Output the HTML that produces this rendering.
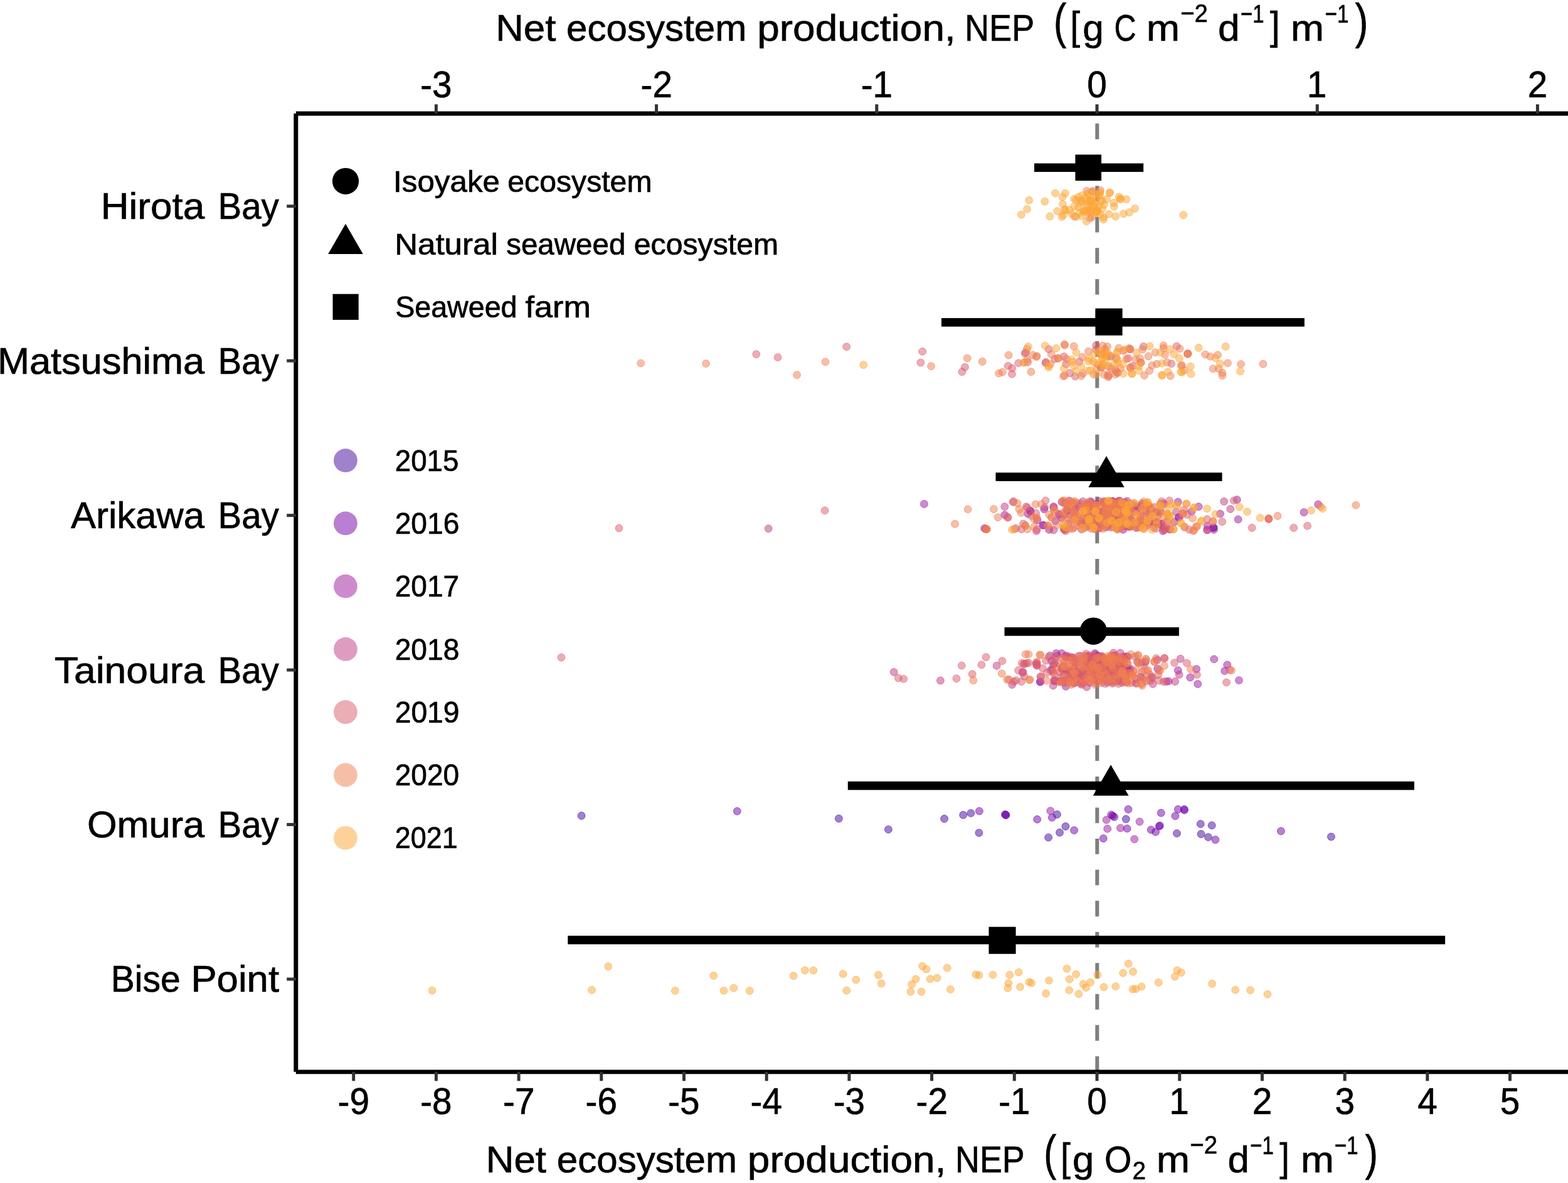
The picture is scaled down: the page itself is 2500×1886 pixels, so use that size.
<!DOCTYPE html>
<html lang="en"><head><meta charset="utf-8"><title>Net ecosystem production by site</title>
<style>html,body{margin:0;padding:0;background:#fff}body{width:2500px;height:1886px;overflow:hidden}svg{display:block}text{font-family:"Liberation Sans", sans-serif;fill:#000;white-space:pre}</style></head><body>
<svg width="2500" height="1886" viewBox="0 0 2500 1886" role="img" aria-label="Net ecosystem production by site and year">
<rect width="2500" height="1886" fill="#fff"/>
<line x1="1749.3" y1="1708.7" x2="1749.3" y2="180.9" stroke="#7f7f7f" stroke-width="6" stroke-dasharray="24.78 24.78"/>
<g fill="#41049D" fill-opacity="0.5" stroke="#41049D" stroke-opacity="0.55" stroke-width="1">
<circle cx="927.1" cy="1300.5" r="5.95"/><circle cx="1337.4" cy="1305" r="5.95"/><circle cx="1416.4" cy="1322.4" r="5.95"/><circle cx="1505.6" cy="1305.3" r="5.95"/><circle cx="1535.7" cy="1299.3" r="5.95"/><circle cx="1547.9" cy="1296.4" r="5.95"/><circle cx="1560.9" cy="1327.8" r="5.95"/><circle cx="1602.4" cy="1298.5" r="5.95"/><circle cx="1685.4" cy="1298.5" r="5.95"/><circle cx="1698.9" cy="1317.5" r="5.95"/><circle cx="1689.5" cy="1327.3" r="5.95"/><circle cx="1671.6" cy="1335.1" r="5.95"/>
<circle cx="1795.3" cy="1305.8" r="5.95"/><circle cx="1876.4" cy="1328.6" r="5.95"/><circle cx="1914.2" cy="1313.6" r="5.95"/><circle cx="1932.1" cy="1315.9" r="5.95"/><circle cx="1915" cy="1329.7" r="5.95"/><circle cx="1926.4" cy="1334.6" r="5.95"/><circle cx="2122.4" cy="1334" r="5.95"/>
</g>
<g fill="#7100A8" fill-opacity="0.5" stroke="#7100A8" stroke-opacity="0.55" stroke-width="1">
<circle cx="1934.6" cy="841.5" r="5.95"/><circle cx="1935.2" cy="840.9" r="5.95"/><circle cx="1175.3" cy="1293.3" r="5.95"/><circle cx="1561.4" cy="1293.1" r="5.95"/><circle cx="1604" cy="1299.6" r="5.95"/><circle cx="1603.5" cy="1299" r="5.95"/><circle cx="1653.7" cy="1306.3" r="5.95"/><circle cx="1677.3" cy="1303.4" r="5.95"/><circle cx="1712.6" cy="1323.7" r="5.95"/><circle cx="1759.2" cy="1336.7" r="5.95"/><circle cx="1771.7" cy="1299" r="5.95"/><circle cx="1774.2" cy="1300.6" r="5.95"/>
<circle cx="1776.6" cy="1302.6" r="5.95"/><circle cx="1798.9" cy="1290.3" r="5.95"/><circle cx="1797" cy="1320.9" r="5.95"/><circle cx="1835.2" cy="1322.9" r="5.95"/><circle cx="1842.5" cy="1326.2" r="5.95"/><circle cx="1848.2" cy="1317.2" r="5.95"/><circle cx="1849.3" cy="1316.3" r="5.95"/><circle cx="1851.2" cy="1296" r="5.95"/><circle cx="1873.8" cy="1300.9" r="5.95"/><circle cx="1878.3" cy="1290.3" r="5.95"/><circle cx="1888.4" cy="1291.6" r="5.95"/><circle cx="1888.2" cy="1290.1" r="5.95"/>
<circle cx="1937.8" cy="1338.8" r="5.95"/><circle cx="2042.4" cy="1325" r="5.95"/>
</g>
<g fill="#9C179E" fill-opacity="0.5" stroke="#9C179E" stroke-opacity="0.55" stroke-width="1">
<circle cx="1747.4" cy="817.8" r="5.95"/><circle cx="1747.6" cy="817.9" r="5.95"/><circle cx="1732.2" cy="831.5" r="5.95"/><circle cx="1794.2" cy="821.9" r="5.95"/><circle cx="1784.1" cy="802.9" r="5.95"/><circle cx="1721.6" cy="830.1" r="5.95"/><circle cx="1737.4" cy="805.6" r="5.95"/><circle cx="1762.8" cy="806.9" r="5.95"/><circle cx="1837.2" cy="812.9" r="5.95"/><circle cx="1740.8" cy="809.2" r="5.95"/><circle cx="1826.8" cy="814.8" r="5.95"/><circle cx="1842" cy="832.5" r="5.95"/>
<circle cx="1770.7" cy="811.7" r="5.95"/><circle cx="1757.4" cy="815.7" r="5.95"/><circle cx="1784.7" cy="803.4" r="5.95"/><circle cx="1739" cy="811.2" r="5.95"/><circle cx="1763.7" cy="840.4" r="5.95"/><circle cx="1778.6" cy="827.9" r="5.95"/><circle cx="1796.7" cy="804.3" r="5.95"/><circle cx="1765.5" cy="812.1" r="5.95"/><circle cx="1731.7" cy="816.3" r="5.95"/><circle cx="1773.1" cy="799.5" r="5.95"/><circle cx="1838.1" cy="831.4" r="5.95"/><circle cx="1795.3" cy="815.3" r="5.95"/>
<circle cx="1800.4" cy="839.9" r="5.95"/><circle cx="1701.6" cy="814" r="5.95"/><circle cx="1821" cy="802.9" r="5.95"/><circle cx="1753.1" cy="840.5" r="5.95"/><circle cx="1785.3" cy="798.4" r="5.95"/><circle cx="1812" cy="841.2" r="5.95"/><circle cx="1872.3" cy="832.3" r="5.95"/><circle cx="1799.7" cy="838.5" r="5.95"/><circle cx="1733.5" cy="803.5" r="5.95"/><circle cx="1772.4" cy="820.8" r="5.95"/><circle cx="1801.8" cy="819" r="5.95"/><circle cx="1854.2" cy="839.3" r="5.95"/>
<circle cx="1791.3" cy="824.3" r="5.95"/><circle cx="1739" cy="822.2" r="5.95"/><circle cx="1813.5" cy="810.2" r="5.95"/><circle cx="1793.4" cy="830.6" r="5.95"/><circle cx="1794.9" cy="838.7" r="5.95"/><circle cx="1790.7" cy="844.4" r="5.95"/><circle cx="1698.4" cy="801.9" r="5.95"/><circle cx="1701.4" cy="813" r="5.95"/><circle cx="1760.8" cy="815.6" r="5.95"/><circle cx="1774" cy="798.9" r="5.95"/><circle cx="1755.1" cy="833.1" r="5.95"/><circle cx="1801.4" cy="826.3" r="5.95"/>
<circle cx="1794" cy="800.8" r="5.95"/><circle cx="1771.5" cy="833.2" r="5.95"/><circle cx="1741.5" cy="1056.3" r="5.95"/><circle cx="1772.6" cy="1057.9" r="5.95"/><circle cx="1769.5" cy="1054.5" r="5.95"/><circle cx="1740.5" cy="1066.8" r="5.95"/><circle cx="1756.7" cy="1075.2" r="5.95"/><circle cx="1783.4" cy="1050.7" r="5.95"/><circle cx="1792.7" cy="1051.1" r="5.95"/><circle cx="1762.9" cy="1070.4" r="5.95"/><circle cx="1755.8" cy="1054.4" r="5.95"/><circle cx="1702.6" cy="1069.9" r="5.95"/>
<circle cx="1786.7" cy="1077.3" r="5.95"/><circle cx="1733.9" cy="1069.5" r="5.95"/><circle cx="1769.9" cy="1080.3" r="5.95"/><circle cx="1725.9" cy="1070.2" r="5.95"/><circle cx="1818.7" cy="1079.4" r="5.95"/><circle cx="1711.9" cy="1051.2" r="5.95"/><circle cx="1721.5" cy="1045.8" r="5.95"/><circle cx="1694.8" cy="1062.8" r="5.95"/><circle cx="1748.1" cy="1084" r="5.95"/><circle cx="1677.5" cy="1067.7" r="5.95"/><circle cx="1802" cy="1066.2" r="5.95"/><circle cx="1700.1" cy="1069.1" r="5.95"/>
<circle cx="1734.9" cy="1046" r="5.95"/><circle cx="1676.6" cy="1053.6" r="5.95"/><circle cx="1748.9" cy="1079.9" r="5.95"/><circle cx="1777.3" cy="1046.6" r="5.95"/><circle cx="1750.6" cy="1045.9" r="5.95"/><circle cx="1733" cy="1058.3" r="5.95"/><circle cx="1759.2" cy="1049.1" r="5.95"/><circle cx="1761" cy="1080.5" r="5.95"/><circle cx="1797.8" cy="1047.2" r="5.95"/><circle cx="1759.7" cy="1080.3" r="5.95"/><circle cx="1777.3" cy="1045.3" r="5.95"/><circle cx="1757.1" cy="1077" r="5.95"/>
<circle cx="1785.9" cy="1051.1" r="5.95"/><circle cx="1741.4" cy="1050.6" r="5.95"/><circle cx="1752.3" cy="1075.5" r="5.95"/><circle cx="1734.1" cy="1074.6" r="5.95"/><circle cx="1705.3" cy="1081" r="5.95"/><circle cx="1775.6" cy="1071.2" r="5.95"/><circle cx="1704" cy="1085.9" r="5.95"/><circle cx="1761.9" cy="1077.2" r="5.95"/><circle cx="1717.2" cy="1073.2" r="5.95"/><circle cx="1777.4" cy="1070.7" r="5.95"/><circle cx="1774.2" cy="1060" r="5.95"/><circle cx="1774.6" cy="1088.4" r="5.95"/>
<circle cx="1740.8" cy="1066.6" r="5.95"/><circle cx="1702.8" cy="1083" r="5.95"/><circle cx="1764.1" cy="1080.6" r="5.95"/><circle cx="1757.9" cy="1050.4" r="5.95"/><circle cx="1730.2" cy="1058.7" r="5.95"/><circle cx="1473.5" cy="803.5" r="5.95"/><circle cx="1569.7" cy="842.4" r="5.95"/><circle cx="1601.8" cy="820.9" r="5.95"/><circle cx="1642.3" cy="814" r="5.95"/><circle cx="1643.3" cy="814.9" r="5.95"/><circle cx="1638.7" cy="819.1" r="5.95"/><circle cx="1653.9" cy="829.2" r="5.95"/>
<circle cx="1664.8" cy="811.8" r="5.95"/><circle cx="1664" cy="837.1" r="5.95"/><circle cx="1662.6" cy="837.5" r="5.95"/><circle cx="1672.7" cy="844.4" r="5.95"/><circle cx="1682.8" cy="830.6" r="5.95"/><circle cx="1693" cy="800.3" r="5.95"/><circle cx="1972.2" cy="796.6" r="5.95"/><circle cx="1974.1" cy="828.1" r="5.95"/><circle cx="1945.5" cy="819.1" r="5.95"/><circle cx="1911.1" cy="807.8" r="5.95"/><circle cx="1878.2" cy="800.3" r="5.95"/><circle cx="1899.9" cy="815.4" r="5.95"/>
<circle cx="1878.9" cy="824.8" r="5.95"/><circle cx="1880.4" cy="824.6" r="5.95"/><circle cx="1925.2" cy="838.6" r="5.95"/><circle cx="1935.4" cy="844.4" r="5.95"/><circle cx="1854.3" cy="846.5" r="5.95"/><circle cx="2022.8" cy="827.5" r="5.95"/><circle cx="2079" cy="816.8" r="5.95"/><circle cx="2101.6" cy="804.2" r="5.95"/><circle cx="1653.2" cy="1061.1" r="5.95"/><circle cx="1658.9" cy="1086.7" r="5.95"/><circle cx="1909.7" cy="1090.5" r="5.95"/><circle cx="1897.6" cy="1080" r="5.95"/>
<circle cx="1907.5" cy="1066.6" r="5.95"/><circle cx="1878.2" cy="1068.8" r="5.95"/><circle cx="1863.1" cy="1086.1" r="5.95"/><circle cx="1845.7" cy="1066.2" r="5.95"/><circle cx="1826.2" cy="1055.4" r="5.95"/><circle cx="1795.8" cy="1065.5" r="5.95"/><circle cx="1935.7" cy="1050.9" r="5.95"/><circle cx="1956.7" cy="1059.9" r="5.95"/><circle cx="1952.6" cy="1069.6" r="5.95"/><circle cx="1975.4" cy="1084.6" r="5.95"/><circle cx="1674.8" cy="1292.8" r="5.95"/><circle cx="1765.7" cy="1321.3" r="5.95"/>
<circle cx="1764.1" cy="1307.1" r="5.95"/><circle cx="1786.4" cy="1320.1" r="5.95"/><circle cx="1817" cy="1310" r="5.95"/><circle cx="1808.7" cy="1337.9" r="5.95"/><circle cx="1684.1" cy="1041.6" r="5.95"/><circle cx="1692.8" cy="1041.6" r="5.95"/><circle cx="1745.6" cy="1041.6" r="5.95"/><circle cx="1658.1" cy="1087.2" r="5.95"/><circle cx="1699.3" cy="1094.4" r="5.95"/><circle cx="1707.3" cy="1072" r="5.95"/><circle cx="1796.2" cy="1046.7" r="5.95"/><circle cx="1797.7" cy="1065.5" r="5.95"/>
<circle cx="1783.9" cy="1084.3" r="5.95"/>
</g>
<g fill="#BF3984" fill-opacity="0.5" stroke="#BF3984" stroke-opacity="0.55" stroke-width="1">
<circle cx="1763.1" cy="834.2" r="5.95"/><circle cx="1696.5" cy="843.8" r="5.95"/><circle cx="1855.5" cy="802.6" r="5.95"/><circle cx="1833.5" cy="825.2" r="5.95"/><circle cx="1760.1" cy="826.4" r="5.95"/><circle cx="1759.8" cy="824.7" r="5.95"/><circle cx="1771.2" cy="840.6" r="5.95"/><circle cx="1715.1" cy="810.8" r="5.95"/><circle cx="1844.5" cy="816.2" r="5.95"/><circle cx="1831.6" cy="836.4" r="5.95"/><circle cx="1703.3" cy="835" r="5.95"/><circle cx="1776.7" cy="810.4" r="5.95"/>
<circle cx="1790.9" cy="801.2" r="5.95"/><circle cx="1807" cy="804.9" r="5.95"/><circle cx="1740.5" cy="800.6" r="5.95"/><circle cx="1781.3" cy="842.9" r="5.95"/><circle cx="1738.3" cy="799.3" r="5.95"/><circle cx="1726.5" cy="799.5" r="5.95"/><circle cx="1812.8" cy="814.1" r="5.95"/><circle cx="1759.7" cy="799.5" r="5.95"/><circle cx="1799.5" cy="833.8" r="5.95"/><circle cx="1712.9" cy="827.9" r="5.95"/><circle cx="1735.1" cy="822.4" r="5.95"/><circle cx="1846.3" cy="832.4" r="5.95"/>
<circle cx="1774.1" cy="800.5" r="5.95"/><circle cx="1839.4" cy="817.3" r="5.95"/><circle cx="1754.9" cy="816" r="5.95"/><circle cx="1803.4" cy="836.9" r="5.95"/><circle cx="1777.7" cy="803.9" r="5.95"/><circle cx="1802.8" cy="828.6" r="5.95"/><circle cx="1738.8" cy="823.6" r="5.95"/><circle cx="1738.7" cy="806.7" r="5.95"/><circle cx="1793.3" cy="822.9" r="5.95"/><circle cx="1759.8" cy="821.5" r="5.95"/><circle cx="1753.9" cy="835.8" r="5.95"/><circle cx="1810.5" cy="807.9" r="5.95"/>
<circle cx="1724.4" cy="843.8" r="5.95"/><circle cx="1766" cy="815.2" r="5.95"/><circle cx="1787.9" cy="815" r="5.95"/><circle cx="1720.1" cy="807.6" r="5.95"/><circle cx="1697.8" cy="844.2" r="5.95"/><circle cx="1737.4" cy="832" r="5.95"/><circle cx="1748.3" cy="837.8" r="5.95"/><circle cx="1783.3" cy="801" r="5.95"/><circle cx="1756.1" cy="830.6" r="5.95"/><circle cx="1752.8" cy="799.3" r="5.95"/><circle cx="1712.7" cy="812.9" r="5.95"/><circle cx="1797.1" cy="798.8" r="5.95"/>
<circle cx="1864.5" cy="844.2" r="5.95"/><circle cx="1751.9" cy="842.2" r="5.95"/><circle cx="1739.1" cy="1048" r="5.95"/><circle cx="1714.2" cy="1076.8" r="5.95"/><circle cx="1836.1" cy="1079.5" r="5.95"/><circle cx="1679.4" cy="1059.9" r="5.95"/><circle cx="1751.1" cy="1055.4" r="5.95"/><circle cx="1729.6" cy="1071.6" r="5.95"/><circle cx="1742.4" cy="1071.9" r="5.95"/><circle cx="1763.9" cy="1082.8" r="5.95"/><circle cx="1820.4" cy="1055.9" r="5.95"/><circle cx="1813.2" cy="1055.1" r="5.95"/>
<circle cx="1796.3" cy="1077.1" r="5.95"/><circle cx="1782.5" cy="1081.8" r="5.95"/><circle cx="1748.6" cy="1055.8" r="5.95"/><circle cx="1743.4" cy="1069.6" r="5.95"/><circle cx="1733.9" cy="1049.5" r="5.95"/><circle cx="1691" cy="1086" r="5.95"/><circle cx="1777.3" cy="1051.8" r="5.95"/><circle cx="1722.4" cy="1089.8" r="5.95"/><circle cx="1712.3" cy="1051.3" r="5.95"/><circle cx="1710" cy="1048.5" r="5.95"/><circle cx="1769.5" cy="1085.1" r="5.95"/><circle cx="1742.2" cy="1053.3" r="5.95"/>
<circle cx="1764.8" cy="1060" r="5.95"/><circle cx="1700.3" cy="1045.4" r="5.95"/><circle cx="1693.8" cy="1064.9" r="5.95"/><circle cx="1757.3" cy="1067.1" r="5.95"/><circle cx="1757" cy="1071.1" r="5.95"/><circle cx="1752.5" cy="1067.5" r="5.95"/><circle cx="1757.1" cy="1046.3" r="5.95"/><circle cx="1752.5" cy="1046.5" r="5.95"/><circle cx="1789.5" cy="1052.7" r="5.95"/><circle cx="1698.5" cy="1046.3" r="5.95"/><circle cx="1783.9" cy="1063.1" r="5.95"/><circle cx="1693.1" cy="1067" r="5.95"/>
<circle cx="1750.8" cy="1078.7" r="5.95"/><circle cx="1783.8" cy="1073.4" r="5.95"/><circle cx="1741.7" cy="1070.8" r="5.95"/><circle cx="1789.4" cy="1053.9" r="5.95"/><circle cx="1737.7" cy="1088.3" r="5.95"/><circle cx="1753.9" cy="1052.6" r="5.95"/><circle cx="1774.7" cy="1085" r="5.95"/><circle cx="1747.9" cy="1075.3" r="5.95"/><circle cx="1751.7" cy="1079.1" r="5.95"/><circle cx="1740" cy="1063.4" r="5.95"/><circle cx="1761.3" cy="1080.8" r="5.95"/><circle cx="1685.7" cy="1045.8" r="5.95"/>
<circle cx="1745.6" cy="1068.8" r="5.95"/><circle cx="1729.9" cy="1085.2" r="5.95"/><circle cx="1705.6" cy="1046.9" r="5.95"/><circle cx="1749.4" cy="1050.4" r="5.95"/><circle cx="1757.1" cy="1078.5" r="5.95"/><circle cx="1766" cy="1088.2" r="5.95"/><circle cx="1758.2" cy="1052.4" r="5.95"/><circle cx="1725.9" cy="1077.5" r="5.95"/><circle cx="1225.2" cy="842.7" r="5.95"/><circle cx="1601.8" cy="807.8" r="5.95"/><circle cx="1665.5" cy="808.9" r="5.95"/><circle cx="1652.5" cy="846.5" r="5.95"/>
<circle cx="1679.9" cy="845.1" r="5.95"/><circle cx="1679.9" cy="807.5" r="5.95"/><circle cx="1679.7" cy="808.9" r="5.95"/><circle cx="1689.3" cy="820.5" r="5.95"/><circle cx="1688" cy="819.4" r="5.95"/><circle cx="1705.3" cy="820.5" r="5.95"/><circle cx="1951.6" cy="799.5" r="5.95"/><circle cx="1961.8" cy="811.5" r="5.95"/><circle cx="1875.3" cy="816.2" r="5.95"/><circle cx="1925.2" cy="845.1" r="5.95"/><circle cx="1924.4" cy="844.8" r="5.95"/><circle cx="1851.4" cy="835" r="5.95"/>
<circle cx="1852.1" cy="835.5" r="5.95"/><circle cx="1425.2" cy="1071.5" r="5.95"/><circle cx="1499.4" cy="1085" r="5.95"/><circle cx="1589.1" cy="1061.4" r="5.95"/><circle cx="1613.8" cy="1091.5" r="5.95"/><circle cx="1630.4" cy="1072.5" r="5.95"/><circle cx="1630.8" cy="1071.1" r="5.95"/><circle cx="1882.2" cy="1050.3" r="5.95"/><circle cx="1880.1" cy="1075.6" r="5.95"/><circle cx="1873.5" cy="1086.5" r="5.95"/><circle cx="1859.4" cy="1086.5" r="5.95"/><circle cx="1838.1" cy="1090.5" r="5.95"/>
<circle cx="1845" cy="1052.5" r="5.95"/><circle cx="1800.8" cy="1068.4" r="5.95"/><circle cx="1792.2" cy="1046.7" r="5.95"/><circle cx="1747.1" cy="1043.1" r="5.95"/><circle cx="1775.3" cy="1040.9" r="5.95"/><circle cx="1786.1" cy="1040.9" r="5.95"/><circle cx="1681.2" cy="1085.8" r="5.95"/><circle cx="1680.7" cy="1085" r="5.95"/><circle cx="1679.1" cy="1093" r="5.95"/><circle cx="1732.6" cy="1095.2" r="5.95"/><circle cx="1674.7" cy="1068.4" r="5.95"/><circle cx="1674" cy="1045.3" r="5.95"/>
</g>
<g fill="#DA5B69" fill-opacity="0.5" stroke="#DA5B69" stroke-opacity="0.55" stroke-width="1">
<circle cx="1782.2" cy="594.5" r="5.95"/><circle cx="1747.4" cy="557.6" r="5.95"/><circle cx="1791.4" cy="559.1" r="5.95"/><circle cx="1779.6" cy="571.3" r="5.95"/><circle cx="1817.9" cy="806.3" r="5.95"/><circle cx="1818.5" cy="824.6" r="5.95"/><circle cx="1730" cy="835.5" r="5.95"/><circle cx="1831.4" cy="807.7" r="5.95"/><circle cx="1728.1" cy="812.3" r="5.95"/><circle cx="1771.5" cy="799.2" r="5.95"/><circle cx="1783.9" cy="829.8" r="5.95"/><circle cx="1818.5" cy="834.8" r="5.95"/>
<circle cx="1712.4" cy="828.7" r="5.95"/><circle cx="1763.1" cy="810.7" r="5.95"/><circle cx="1831.4" cy="820.3" r="5.95"/><circle cx="1769.7" cy="827" r="5.95"/><circle cx="1743.4" cy="818.2" r="5.95"/><circle cx="1830.4" cy="809.7" r="5.95"/><circle cx="1779.3" cy="829.3" r="5.95"/><circle cx="1763.5" cy="804.7" r="5.95"/><circle cx="1698.3" cy="819.8" r="5.95"/><circle cx="1772.5" cy="809" r="5.95"/><circle cx="1780.8" cy="821" r="5.95"/><circle cx="1828.5" cy="808.9" r="5.95"/>
<circle cx="1791.7" cy="833.4" r="5.95"/><circle cx="1795.2" cy="816.2" r="5.95"/><circle cx="1763.8" cy="801.4" r="5.95"/><circle cx="1793" cy="828.4" r="5.95"/><circle cx="1760.9" cy="824.8" r="5.95"/><circle cx="1716.1" cy="818.7" r="5.95"/><circle cx="1762" cy="810.1" r="5.95"/><circle cx="1815.8" cy="829.3" r="5.95"/><circle cx="1856.2" cy="804.5" r="5.95"/><circle cx="1755.4" cy="817.1" r="5.95"/><circle cx="1829.6" cy="805.9" r="5.95"/><circle cx="1798.5" cy="831.3" r="5.95"/>
<circle cx="1747.4" cy="824" r="5.95"/><circle cx="1845.6" cy="822.2" r="5.95"/><circle cx="1716.8" cy="801.9" r="5.95"/><circle cx="1834.7" cy="831.5" r="5.95"/><circle cx="1740" cy="811.5" r="5.95"/><circle cx="1733.6" cy="829.3" r="5.95"/><circle cx="1782.9" cy="798.6" r="5.95"/><circle cx="1818.5" cy="818.3" r="5.95"/><circle cx="1749.5" cy="820.2" r="5.95"/><circle cx="1691.6" cy="825.2" r="5.95"/><circle cx="1862" cy="820.6" r="5.95"/><circle cx="1782.8" cy="799.6" r="5.95"/>
<circle cx="1778.3" cy="819.2" r="5.95"/><circle cx="1770.3" cy="836.6" r="5.95"/><circle cx="1745.3" cy="837.6" r="5.95"/><circle cx="1748.6" cy="830.5" r="5.95"/><circle cx="1800.7" cy="803.2" r="5.95"/><circle cx="1786.8" cy="828.6" r="5.95"/><circle cx="1741.6" cy="832.9" r="5.95"/><circle cx="1788.7" cy="803.4" r="5.95"/><circle cx="1729.4" cy="813.6" r="5.95"/><circle cx="1745.4" cy="817.7" r="5.95"/><circle cx="1766.6" cy="828.8" r="5.95"/><circle cx="1786.2" cy="803.2" r="5.95"/>
<circle cx="1786.1" cy="841.7" r="5.95"/><circle cx="1796" cy="818.6" r="5.95"/><circle cx="1798.8" cy="814.2" r="5.95"/><circle cx="1734.2" cy="820.9" r="5.95"/><circle cx="1729.5" cy="823.4" r="5.95"/><circle cx="1762.3" cy="814.3" r="5.95"/><circle cx="1722.6" cy="834.7" r="5.95"/><circle cx="1785.3" cy="832.1" r="5.95"/><circle cx="1781.7" cy="833.6" r="5.95"/><circle cx="1804.7" cy="819.5" r="5.95"/><circle cx="1696.6" cy="842.9" r="5.95"/><circle cx="1772.6" cy="815.6" r="5.95"/>
<circle cx="1818.6" cy="807.6" r="5.95"/><circle cx="1782.6" cy="837.1" r="5.95"/><circle cx="1842.7" cy="842.7" r="5.95"/><circle cx="1746" cy="804.8" r="5.95"/><circle cx="1759.8" cy="826.7" r="5.95"/><circle cx="1777.2" cy="813.5" r="5.95"/><circle cx="1724.3" cy="834.1" r="5.95"/><circle cx="1744.4" cy="818" r="5.95"/><circle cx="1841.1" cy="808.6" r="5.95"/><circle cx="1858.3" cy="842.7" r="5.95"/><circle cx="1734.3" cy="839" r="5.95"/><circle cx="1762.7" cy="799.4" r="5.95"/>
<circle cx="1779.1" cy="818" r="5.95"/><circle cx="1739.9" cy="804.7" r="5.95"/><circle cx="1772.8" cy="813.6" r="5.95"/><circle cx="1865.5" cy="843.2" r="5.95"/><circle cx="1700.7" cy="840.7" r="5.95"/><circle cx="1839.5" cy="841" r="5.95"/><circle cx="1817" cy="840.7" r="5.95"/><circle cx="1705.7" cy="798.8" r="5.95"/><circle cx="1754" cy="831.8" r="5.95"/><circle cx="1775.1" cy="839.9" r="5.95"/><circle cx="1746.3" cy="828.3" r="5.95"/><circle cx="1792.4" cy="812.6" r="5.95"/>
<circle cx="1710.4" cy="842.9" r="5.95"/><circle cx="1739.8" cy="837.9" r="5.95"/><circle cx="1778.4" cy="829.4" r="5.95"/><circle cx="1772.8" cy="830.7" r="5.95"/><circle cx="1861.7" cy="832" r="5.95"/><circle cx="1755.1" cy="828.9" r="5.95"/><circle cx="1757.9" cy="801.7" r="5.95"/><circle cx="1801.9" cy="810.7" r="5.95"/><circle cx="1822.2" cy="831.6" r="5.95"/><circle cx="1828.1" cy="833.4" r="5.95"/><circle cx="1722.5" cy="802.7" r="5.95"/><circle cx="1711.2" cy="817.6" r="5.95"/>
<circle cx="1694" cy="826.5" r="5.95"/><circle cx="1809.9" cy="834.9" r="5.95"/><circle cx="1823.5" cy="832.2" r="5.95"/><circle cx="1762.8" cy="816.5" r="5.95"/><circle cx="1844.6" cy="835.7" r="5.95"/><circle cx="1739.6" cy="842.5" r="5.95"/><circle cx="1801.3" cy="1072.7" r="5.95"/><circle cx="1774.9" cy="1045.6" r="5.95"/><circle cx="1737.7" cy="1053.7" r="5.95"/><circle cx="1756.4" cy="1070" r="5.95"/><circle cx="1789.5" cy="1048.5" r="5.95"/><circle cx="1739.5" cy="1067" r="5.95"/>
<circle cx="1787.6" cy="1057.7" r="5.95"/><circle cx="1781.8" cy="1086.3" r="5.95"/><circle cx="1727.2" cy="1058.9" r="5.95"/><circle cx="1732.1" cy="1045.6" r="5.95"/><circle cx="1697.8" cy="1088.3" r="5.95"/><circle cx="1761.1" cy="1064.1" r="5.95"/><circle cx="1716.4" cy="1056.2" r="5.95"/><circle cx="1760.1" cy="1066.7" r="5.95"/><circle cx="1734.8" cy="1046.1" r="5.95"/><circle cx="1784.6" cy="1057.2" r="5.95"/><circle cx="1738.5" cy="1058.1" r="5.95"/><circle cx="1787.1" cy="1074.3" r="5.95"/>
<circle cx="1777.6" cy="1064.5" r="5.95"/><circle cx="1726.4" cy="1089.2" r="5.95"/><circle cx="1692.8" cy="1064.8" r="5.95"/><circle cx="1745" cy="1076.4" r="5.95"/><circle cx="1753.1" cy="1056" r="5.95"/><circle cx="1756" cy="1080.6" r="5.95"/><circle cx="1822.2" cy="1081.1" r="5.95"/><circle cx="1823.6" cy="1060.2" r="5.95"/><circle cx="1729.6" cy="1048.6" r="5.95"/><circle cx="1737.6" cy="1059.6" r="5.95"/><circle cx="1773.1" cy="1083.9" r="5.95"/><circle cx="1711.8" cy="1088.8" r="5.95"/>
<circle cx="1795.2" cy="1080.2" r="5.95"/><circle cx="1751.3" cy="1068.3" r="5.95"/><circle cx="1766.8" cy="1067.3" r="5.95"/><circle cx="1766.4" cy="1063.6" r="5.95"/><circle cx="1719.5" cy="1076.7" r="5.95"/><circle cx="1707.3" cy="1070.9" r="5.95"/><circle cx="1811.1" cy="1082.3" r="5.95"/><circle cx="1752.1" cy="1053.5" r="5.95"/><circle cx="1713.8" cy="1055.4" r="5.95"/><circle cx="1806.9" cy="1070.1" r="5.95"/><circle cx="1682.7" cy="1084" r="5.95"/><circle cx="1754" cy="1080.3" r="5.95"/>
<circle cx="1713.7" cy="1077.3" r="5.95"/><circle cx="1752.2" cy="1081.3" r="5.95"/><circle cx="1746.6" cy="1082.1" r="5.95"/><circle cx="1691.2" cy="1086.4" r="5.95"/><circle cx="1771.6" cy="1069.5" r="5.95"/><circle cx="1783.1" cy="1069.5" r="5.95"/><circle cx="1741.2" cy="1063.9" r="5.95"/><circle cx="1765.9" cy="1081.8" r="5.95"/><circle cx="1719.6" cy="1086.3" r="5.95"/><circle cx="1672.1" cy="1047.2" r="5.95"/><circle cx="1719.7" cy="1081.9" r="5.95"/><circle cx="1752.6" cy="1076.1" r="5.95"/>
<circle cx="1759.1" cy="1056.6" r="5.95"/><circle cx="1770.8" cy="1049.7" r="5.95"/><circle cx="1678.8" cy="1071.6" r="5.95"/><circle cx="1723.6" cy="1050.8" r="5.95"/><circle cx="1720.3" cy="1083.5" r="5.95"/><circle cx="1705.2" cy="1059" r="5.95"/><circle cx="1759.6" cy="1051.2" r="5.95"/><circle cx="1728.5" cy="1049.5" r="5.95"/><circle cx="1681.4" cy="1058.6" r="5.95"/><circle cx="1735.3" cy="1050" r="5.95"/><circle cx="1748.5" cy="1047.6" r="5.95"/><circle cx="1828" cy="1086" r="5.95"/>
<circle cx="1758.2" cy="1082.5" r="5.95"/><circle cx="1730.8" cy="1063.1" r="5.95"/><circle cx="1731.2" cy="1059.3" r="5.95"/><circle cx="1699.2" cy="1083.6" r="5.95"/><circle cx="1787.9" cy="1065.5" r="5.95"/><circle cx="1789.3" cy="1088.8" r="5.95"/><circle cx="1772.4" cy="1049.5" r="5.95"/><circle cx="1794.5" cy="1079.6" r="5.95"/><circle cx="1797" cy="1087.1" r="5.95"/><circle cx="1773" cy="1067.5" r="5.95"/><circle cx="1738" cy="1045.1" r="5.95"/><circle cx="1776.4" cy="1060.9" r="5.95"/>
<circle cx="1696" cy="1065.6" r="5.95"/><circle cx="1711.1" cy="1054.6" r="5.95"/><circle cx="1774.4" cy="1064.8" r="5.95"/><circle cx="1701.4" cy="1086.4" r="5.95"/><circle cx="1762.9" cy="1079.3" r="5.95"/><circle cx="1681.1" cy="1076" r="5.95"/><circle cx="1688.3" cy="1058.1" r="5.95"/><circle cx="1792.9" cy="1053.8" r="5.95"/><circle cx="1740.9" cy="1083.8" r="5.95"/><circle cx="1809.6" cy="1046.7" r="5.95"/><circle cx="1711.6" cy="1089.5" r="5.95"/><circle cx="1686.1" cy="1087" r="5.95"/>
<circle cx="1800.2" cy="1074.4" r="5.95"/><circle cx="1728" cy="1087.3" r="5.95"/><circle cx="1804.4" cy="1088.6" r="5.95"/><circle cx="1764.3" cy="1068.9" r="5.95"/><circle cx="1756.3" cy="1046.6" r="5.95"/><circle cx="1706.7" cy="1082.9" r="5.95"/><circle cx="1757.7" cy="1057.2" r="5.95"/><circle cx="1720" cy="1075.7" r="5.95"/><circle cx="1725.8" cy="1063.6" r="5.95"/><circle cx="1768.7" cy="1078.5" r="5.95"/><circle cx="1834.7" cy="1085.1" r="5.95"/><circle cx="1699.2" cy="1048" r="5.95"/>
<circle cx="1710.4" cy="1079" r="5.95"/><circle cx="1764.5" cy="1056.5" r="5.95"/><circle cx="1780.9" cy="1050.1" r="5.95"/><circle cx="1790" cy="1086.7" r="5.95"/><circle cx="1712.7" cy="1064.6" r="5.95"/><circle cx="1790.8" cy="1065.5" r="5.95"/><circle cx="1742.9" cy="1076.4" r="5.95"/><circle cx="1710.1" cy="1067.8" r="5.95"/><circle cx="1776.6" cy="1051.4" r="5.95"/><circle cx="1696.2" cy="1077.7" r="5.95"/><circle cx="1775.1" cy="1072.3" r="5.95"/><circle cx="1776.9" cy="1061" r="5.95"/>
<circle cx="1707.9" cy="1079.7" r="5.95"/><circle cx="1716.6" cy="1055" r="5.95"/><circle cx="1738.3" cy="1080.5" r="5.95"/><circle cx="1715.4" cy="1070.8" r="5.95"/><circle cx="1757.4" cy="1077.1" r="5.95"/><circle cx="1747.7" cy="1067.1" r="5.95"/><circle cx="1721.5" cy="1075.7" r="5.95"/><circle cx="1784.8" cy="1048.1" r="5.95"/><circle cx="1717.2" cy="1081.6" r="5.95"/><circle cx="1771.9" cy="1067.8" r="5.95"/><circle cx="1781" cy="1071.4" r="5.95"/><circle cx="1669.3" cy="1072.5" r="5.95"/>
<circle cx="1712.1" cy="1066.6" r="5.95"/><circle cx="1755.8" cy="1078.4" r="5.95"/><circle cx="1742.8" cy="1047.8" r="5.95"/><circle cx="1682.8" cy="1047.2" r="5.95"/><circle cx="1740.8" cy="1066" r="5.95"/><circle cx="1741.8" cy="1071.5" r="5.95"/><circle cx="1757.5" cy="1053" r="5.95"/><circle cx="1751.5" cy="1055.9" r="5.95"/><circle cx="1697.6" cy="1051.1" r="5.95"/><circle cx="1705.8" cy="1069.9" r="5.95"/><circle cx="1701.5" cy="1047.3" r="5.95"/><circle cx="1750.5" cy="1072.5" r="5.95"/>
<circle cx="1713.3" cy="1088.8" r="5.95"/><circle cx="1696.8" cy="1088.4" r="5.95"/><circle cx="1758.4" cy="1064.9" r="5.95"/><circle cx="1795.2" cy="1087.7" r="5.95"/><circle cx="1770" cy="1084.2" r="5.95"/><circle cx="1759.2" cy="1058.7" r="5.95"/><circle cx="1761.5" cy="1065.4" r="5.95"/><circle cx="1740.9" cy="1069" r="5.95"/><circle cx="1749.4" cy="1061.6" r="5.95"/><circle cx="1748.8" cy="1058.7" r="5.95"/><circle cx="1735" cy="1064.5" r="5.95"/><circle cx="1771.3" cy="1075.9" r="5.95"/>
<circle cx="1724.6" cy="1079.1" r="5.95"/><circle cx="1720.9" cy="1078.5" r="5.95"/><circle cx="1753.1" cy="1085.2" r="5.95"/><circle cx="1693.4" cy="1078.4" r="5.95"/><circle cx="1771.2" cy="1045.8" r="5.95"/><circle cx="1748.5" cy="1085.6" r="5.95"/><circle cx="1710.9" cy="1048.2" r="5.95"/><circle cx="1788.9" cy="1065.3" r="5.95"/><circle cx="1766.1" cy="1053.4" r="5.95"/><circle cx="1764.5" cy="1055.2" r="5.95"/><circle cx="1746.6" cy="1088.9" r="5.95"/><circle cx="1721.8" cy="1064.1" r="5.95"/>
<circle cx="1745" cy="1076.6" r="5.95"/><circle cx="1774.5" cy="1047" r="5.95"/><circle cx="1765.4" cy="1072.8" r="5.95"/><circle cx="1205.8" cy="564.7" r="5.95"/><circle cx="1240.1" cy="569.6" r="5.95"/><circle cx="1349.7" cy="552.8" r="5.95"/><circle cx="1470.7" cy="560.4" r="5.95"/><circle cx="1467.9" cy="578.1" r="5.95"/><circle cx="1538.5" cy="585.3" r="5.95"/><circle cx="1533.9" cy="592.7" r="5.95"/><circle cx="1607.3" cy="583.4" r="5.95"/><circle cx="1613.8" cy="587.1" r="5.95"/>
<circle cx="1613.4" cy="596.4" r="5.95"/><circle cx="1623.9" cy="578.9" r="5.95"/><circle cx="1635.3" cy="561.9" r="5.95"/><circle cx="1634.1" cy="563.5" r="5.95"/><circle cx="1638.6" cy="577.3" r="5.95"/><circle cx="1672" cy="556.6" r="5.95"/><circle cx="1667.5" cy="577.3" r="5.95"/><circle cx="1667" cy="578.8" r="5.95"/><circle cx="1681.7" cy="572.4" r="5.95"/><circle cx="1696.4" cy="568.4" r="5.95"/><circle cx="1699.6" cy="580.6" r="5.95"/><circle cx="1705.7" cy="594.8" r="5.95"/>
<circle cx="1714.3" cy="600.1" r="5.95"/><circle cx="1720.8" cy="576.5" r="5.95"/><circle cx="1747.6" cy="550.5" r="5.95"/><circle cx="1802.1" cy="557" r="5.95"/><circle cx="1823.2" cy="552.5" r="5.95"/><circle cx="1876.1" cy="552.1" r="5.95"/><circle cx="1894" cy="563.5" r="5.95"/><circle cx="1798.8" cy="571.2" r="5.95"/><circle cx="1867.6" cy="579.8" r="5.95"/><circle cx="1755.7" cy="585.5" r="5.95"/><circle cx="1772" cy="587.1" r="5.95"/><circle cx="1806.1" cy="583.8" r="5.95"/>
<circle cx="1767.1" cy="600.9" r="5.95"/><circle cx="986.9" cy="842.1" r="5.95"/><circle cx="1315.1" cy="813.9" r="5.95"/><circle cx="1571.8" cy="843.2" r="5.95"/><circle cx="1571.4" cy="843.3" r="5.95"/><circle cx="1607" cy="825.4" r="5.95"/><circle cx="1606.5" cy="824" r="5.95"/><circle cx="1615.2" cy="800.6" r="5.95"/><circle cx="1615.9" cy="799.3" r="5.95"/><circle cx="1636.2" cy="807.8" r="5.95"/><circle cx="1637.8" cy="809.2" r="5.95"/><circle cx="1643.8" cy="822" r="5.95"/>
<circle cx="1651.7" cy="818.3" r="5.95"/><circle cx="1666.9" cy="798.1" r="5.95"/><circle cx="1631.5" cy="835" r="5.95"/><circle cx="1619.9" cy="842.2" r="5.95"/><circle cx="1628.6" cy="843.7" r="5.95"/><circle cx="1653.2" cy="843.7" r="5.95"/><circle cx="1703.8" cy="798.1" r="5.95"/><circle cx="1698.8" cy="846.5" r="5.95"/><circle cx="1967.2" cy="798.1" r="5.95"/><circle cx="1996.1" cy="841.5" r="5.95"/><circle cx="1948.7" cy="831.7" r="5.95"/><circle cx="1864.5" cy="798.1" r="5.95"/>
<circle cx="1852.2" cy="799.5" r="5.95"/><circle cx="1887.6" cy="813.3" r="5.95"/><circle cx="1892.7" cy="820.5" r="5.95"/><circle cx="1924.5" cy="827.7" r="5.95"/><circle cx="1896.3" cy="844.4" r="5.95"/><circle cx="1856.5" cy="844.4" r="5.95"/><circle cx="1855.8" cy="844.5" r="5.95"/><circle cx="1850" cy="816.2" r="5.95"/><circle cx="1851" cy="815.4" r="5.95"/><circle cx="2062.6" cy="841.5" r="5.95"/><circle cx="2084.5" cy="838.4" r="5.95"/><circle cx="895" cy="1048.2" r="5.95"/>
<circle cx="1432.3" cy="1081" r="5.95"/><circle cx="1440.7" cy="1082.4" r="5.95"/><circle cx="1525" cy="1081.8" r="5.95"/><circle cx="1533.3" cy="1061.1" r="5.95"/><circle cx="1550.2" cy="1074.8" r="5.95"/><circle cx="1564.9" cy="1059.9" r="5.95"/><circle cx="1572" cy="1047.6" r="5.95"/><circle cx="1597.9" cy="1053.8" r="5.95"/><circle cx="1608.5" cy="1083.4" r="5.95"/><circle cx="1616.1" cy="1086.7" r="5.95"/><circle cx="1619.9" cy="1084.8" r="5.95"/><circle cx="1628.5" cy="1086.7" r="5.95"/>
<circle cx="1623.7" cy="1068.7" r="5.95"/><circle cx="1633.2" cy="1078.2" r="5.95"/><circle cx="1629.4" cy="1057.3" r="5.95"/><circle cx="1633.2" cy="1058.2" r="5.95"/><circle cx="1632.8" cy="1058.9" r="5.95"/><circle cx="1637" cy="1057.3" r="5.95"/><circle cx="1653.2" cy="1057.3" r="5.95"/><circle cx="1651.7" cy="1058.1" r="5.95"/><circle cx="1658.9" cy="1079.1" r="5.95"/><circle cx="1908.3" cy="1075.6" r="5.95"/><circle cx="1892.4" cy="1057.2" r="5.95"/><circle cx="1872.5" cy="1056.8" r="5.95"/>
<circle cx="1855.1" cy="1086.8" r="5.95"/><circle cx="1847.9" cy="1085" r="5.95"/><circle cx="1856.2" cy="1049.6" r="5.95"/><circle cx="1856.8" cy="1049.3" r="5.95"/><circle cx="1843.5" cy="1049.6" r="5.95"/><circle cx="1846.4" cy="1075.6" r="5.95"/><circle cx="1821.1" cy="1071.3" r="5.95"/><circle cx="1833.4" cy="1075.6" r="5.95"/><circle cx="1837" cy="1080.7" r="5.95"/><circle cx="1811" cy="1088.7" r="5.95"/><circle cx="1811.7" cy="1089.8" r="5.95"/><circle cx="1960.7" cy="1067.9" r="5.95"/>
<circle cx="1955.5" cy="1087.9" r="5.95"/><circle cx="1681.2" cy="1056.8" r="5.95"/><circle cx="1653" cy="1055.4" r="5.95"/><circle cx="1653" cy="1059.7" r="5.95"/><circle cx="1662.4" cy="1065.5" r="5.95"/><circle cx="1667.5" cy="1053.2" r="5.95"/><circle cx="1659.5" cy="1078.5" r="5.95"/><circle cx="1731.9" cy="1042.4" r="5.95"/><circle cx="1732.6" cy="1053.9" r="5.95"/><circle cx="1719.6" cy="1071.3" r="5.95"/><circle cx="1689.2" cy="1071.3" r="5.95"/><circle cx="1755.7" cy="1088.7" r="5.95"/>
<circle cx="1762.2" cy="1090.1" r="5.95"/><circle cx="1783.2" cy="1090.1" r="5.95"/><circle cx="1779.6" cy="1062.6" r="5.95"/><circle cx="1789" cy="1062.6" r="5.95"/><circle cx="1724.6" cy="1091.5" r="5.95"/><circle cx="1640" cy="1056.8" r="5.95"/>
</g>
<g fill="#EF7E50" fill-opacity="0.5" stroke="#EF7E50" stroke-opacity="0.55" stroke-width="1">
<circle cx="1761.5" cy="556.7" r="5.95"/><circle cx="1758.7" cy="563.7" r="5.95"/><circle cx="1765" cy="568.3" r="5.95"/><circle cx="1780.1" cy="593.3" r="5.95"/><circle cx="1751.2" cy="581.4" r="5.95"/><circle cx="1755.7" cy="586.4" r="5.95"/><circle cx="1756.5" cy="565.6" r="5.95"/><circle cx="1761.6" cy="563.5" r="5.95"/><circle cx="1778.6" cy="814.6" r="5.95"/><circle cx="1795.5" cy="801.8" r="5.95"/><circle cx="1776.2" cy="802" r="5.95"/><circle cx="1731" cy="810.5" r="5.95"/>
<circle cx="1729" cy="817.8" r="5.95"/><circle cx="1713" cy="840.6" r="5.95"/><circle cx="1790.6" cy="819.7" r="5.95"/><circle cx="1718.2" cy="838" r="5.95"/><circle cx="1773" cy="816.5" r="5.95"/><circle cx="1713.3" cy="798.9" r="5.95"/><circle cx="1789" cy="811.1" r="5.95"/><circle cx="1744.2" cy="828.3" r="5.95"/><circle cx="1784.2" cy="810.4" r="5.95"/><circle cx="1711.5" cy="816.2" r="5.95"/><circle cx="1772" cy="822.9" r="5.95"/><circle cx="1761.9" cy="816.2" r="5.95"/>
<circle cx="1741.5" cy="806.2" r="5.95"/><circle cx="1818.4" cy="837.7" r="5.95"/><circle cx="1771.1" cy="809.8" r="5.95"/><circle cx="1730.4" cy="841.3" r="5.95"/><circle cx="1714.2" cy="814.9" r="5.95"/><circle cx="1790.9" cy="822.2" r="5.95"/><circle cx="1705" cy="843.2" r="5.95"/><circle cx="1771.2" cy="805.8" r="5.95"/><circle cx="1720.6" cy="832" r="5.95"/><circle cx="1732.6" cy="808.6" r="5.95"/><circle cx="1749.4" cy="805.6" r="5.95"/><circle cx="1785.2" cy="841" r="5.95"/>
<circle cx="1763.5" cy="835.7" r="5.95"/><circle cx="1783.6" cy="802.5" r="5.95"/><circle cx="1768.3" cy="814.2" r="5.95"/><circle cx="1807.7" cy="802" r="5.95"/><circle cx="1736.5" cy="838.1" r="5.95"/><circle cx="1800.5" cy="837.4" r="5.95"/><circle cx="1826.3" cy="802.4" r="5.95"/><circle cx="1855.5" cy="823.5" r="5.95"/><circle cx="1735.6" cy="800.9" r="5.95"/><circle cx="1793.3" cy="827" r="5.95"/><circle cx="1813.3" cy="818.5" r="5.95"/><circle cx="1772.1" cy="805.7" r="5.95"/>
<circle cx="1799" cy="823.2" r="5.95"/><circle cx="1784.9" cy="821.9" r="5.95"/><circle cx="1745.8" cy="843.5" r="5.95"/><circle cx="1710.1" cy="802.8" r="5.95"/><circle cx="1752.9" cy="828.9" r="5.95"/><circle cx="1805.5" cy="833.8" r="5.95"/><circle cx="1755.8" cy="821.4" r="5.95"/><circle cx="1811.8" cy="831.4" r="5.95"/><circle cx="1766" cy="828.2" r="5.95"/><circle cx="1803.8" cy="839.7" r="5.95"/><circle cx="1811.8" cy="841.6" r="5.95"/><circle cx="1755" cy="841.7" r="5.95"/>
<circle cx="1696.8" cy="841" r="5.95"/><circle cx="1755.3" cy="808.3" r="5.95"/><circle cx="1791.2" cy="823.8" r="5.95"/><circle cx="1735" cy="830.9" r="5.95"/><circle cx="1832.3" cy="807.2" r="5.95"/><circle cx="1758.5" cy="843" r="5.95"/><circle cx="1775.5" cy="806.4" r="5.95"/><circle cx="1784.8" cy="841.6" r="5.95"/><circle cx="1702.3" cy="802.4" r="5.95"/><circle cx="1797.7" cy="806.3" r="5.95"/><circle cx="1762.2" cy="822.3" r="5.95"/><circle cx="1743.4" cy="818" r="5.95"/>
<circle cx="1823.2" cy="832.1" r="5.95"/><circle cx="1823.1" cy="835.6" r="5.95"/><circle cx="1763.7" cy="805.9" r="5.95"/><circle cx="1772.3" cy="800.6" r="5.95"/><circle cx="1793.5" cy="817" r="5.95"/><circle cx="1829.3" cy="814.1" r="5.95"/><circle cx="1729.8" cy="808.1" r="5.95"/><circle cx="1702.6" cy="804" r="5.95"/><circle cx="1781" cy="842.1" r="5.95"/><circle cx="1727.8" cy="841.7" r="5.95"/><circle cx="1818.5" cy="828.6" r="5.95"/><circle cx="1746.7" cy="812.9" r="5.95"/>
<circle cx="1833.9" cy="806.9" r="5.95"/><circle cx="1740.1" cy="821.1" r="5.95"/><circle cx="1825.8" cy="818.8" r="5.95"/><circle cx="1791.3" cy="837.5" r="5.95"/><circle cx="1725.4" cy="808.5" r="5.95"/><circle cx="1828.6" cy="838.2" r="5.95"/><circle cx="1803.7" cy="827.6" r="5.95"/><circle cx="1846.7" cy="820" r="5.95"/><circle cx="1745.5" cy="843.4" r="5.95"/><circle cx="1788.5" cy="832.2" r="5.95"/><circle cx="1795.2" cy="814.5" r="5.95"/><circle cx="1771.6" cy="811.3" r="5.95"/>
<circle cx="1706.9" cy="830.1" r="5.95"/><circle cx="1718.6" cy="823.4" r="5.95"/><circle cx="1823.2" cy="799.7" r="5.95"/><circle cx="1769.6" cy="831" r="5.95"/><circle cx="1777.7" cy="835.9" r="5.95"/><circle cx="1823.9" cy="843.3" r="5.95"/><circle cx="1754.7" cy="832.2" r="5.95"/><circle cx="1732.7" cy="801.9" r="5.95"/><circle cx="1764.5" cy="812.4" r="5.95"/><circle cx="1795.3" cy="812.7" r="5.95"/><circle cx="1713.2" cy="827.2" r="5.95"/><circle cx="1728.1" cy="823.6" r="5.95"/>
<circle cx="1757.8" cy="830.3" r="5.95"/><circle cx="1779.6" cy="817.8" r="5.95"/><circle cx="1823.5" cy="827.4" r="5.95"/><circle cx="1738" cy="835.7" r="5.95"/><circle cx="1742.8" cy="839.2" r="5.95"/><circle cx="1784.7" cy="801.5" r="5.95"/><circle cx="1804.8" cy="814.9" r="5.95"/><circle cx="1764.3" cy="825" r="5.95"/><circle cx="1723" cy="821.1" r="5.95"/><circle cx="1782.1" cy="844.3" r="5.95"/><circle cx="1745.9" cy="808.8" r="5.95"/><circle cx="1763.4" cy="840.2" r="5.95"/>
<circle cx="1747.1" cy="806" r="5.95"/><circle cx="1777.2" cy="837.4" r="5.95"/><circle cx="1759" cy="800.5" r="5.95"/><circle cx="1776" cy="815.6" r="5.95"/><circle cx="1729.1" cy="812" r="5.95"/><circle cx="1797.3" cy="838.6" r="5.95"/><circle cx="1785.8" cy="810.1" r="5.95"/><circle cx="1818.6" cy="824.4" r="5.95"/><circle cx="1804.3" cy="838.9" r="5.95"/><circle cx="1790.2" cy="804" r="5.95"/><circle cx="1829.1" cy="804" r="5.95"/><circle cx="1740.3" cy="836.1" r="5.95"/>
<circle cx="1792.6" cy="833.3" r="5.95"/><circle cx="1799.7" cy="815.3" r="5.95"/><circle cx="1761.8" cy="807" r="5.95"/><circle cx="1736.7" cy="826.2" r="5.95"/><circle cx="1713.5" cy="825.1" r="5.95"/><circle cx="1698.6" cy="805.5" r="5.95"/><circle cx="1727.2" cy="1045.2" r="5.95"/><circle cx="1772.5" cy="1061.5" r="5.95"/><circle cx="1772.8" cy="1047.8" r="5.95"/><circle cx="1753.7" cy="1075.7" r="5.95"/><circle cx="1735.8" cy="1066.1" r="5.95"/><circle cx="1710.8" cy="1051.1" r="5.95"/>
<circle cx="1723.8" cy="1063.2" r="5.95"/><circle cx="1708.9" cy="1068" r="5.95"/><circle cx="1742" cy="1058.7" r="5.95"/><circle cx="1714.2" cy="1071.9" r="5.95"/><circle cx="1696.5" cy="1060.1" r="5.95"/><circle cx="1779.8" cy="1083" r="5.95"/><circle cx="1704.3" cy="1087.4" r="5.95"/><circle cx="1765.1" cy="1055.9" r="5.95"/><circle cx="1756.2" cy="1083.6" r="5.95"/><circle cx="1787.6" cy="1075.5" r="5.95"/><circle cx="1749.5" cy="1064.2" r="5.95"/><circle cx="1737.4" cy="1077.7" r="5.95"/>
<circle cx="1755.8" cy="1085.6" r="5.95"/><circle cx="1784.4" cy="1055.1" r="5.95"/><circle cx="1752" cy="1048.2" r="5.95"/><circle cx="1799.3" cy="1073.7" r="5.95"/><circle cx="1738.3" cy="1085.8" r="5.95"/><circle cx="1772.4" cy="1058.3" r="5.95"/><circle cx="1783.7" cy="1050.3" r="5.95"/><circle cx="1789.9" cy="1069.3" r="5.95"/><circle cx="1743.6" cy="1080.5" r="5.95"/><circle cx="1766.2" cy="1083" r="5.95"/><circle cx="1762" cy="1049.6" r="5.95"/><circle cx="1705.7" cy="1088.9" r="5.95"/>
<circle cx="1728" cy="1049.8" r="5.95"/><circle cx="1774.9" cy="1054.2" r="5.95"/><circle cx="1774.6" cy="1065.3" r="5.95"/><circle cx="1711.9" cy="1072.7" r="5.95"/><circle cx="1786" cy="1070.3" r="5.95"/><circle cx="1761.4" cy="1049.1" r="5.95"/><circle cx="1773.6" cy="1089.8" r="5.95"/><circle cx="1728.8" cy="1086.8" r="5.95"/><circle cx="1772.3" cy="1049.2" r="5.95"/><circle cx="1727.7" cy="1056.4" r="5.95"/><circle cx="1824.7" cy="1068.8" r="5.95"/><circle cx="1799.4" cy="1047" r="5.95"/>
<circle cx="1699.5" cy="1062.9" r="5.95"/><circle cx="1694.3" cy="1062.6" r="5.95"/><circle cx="1770.4" cy="1046.9" r="5.95"/><circle cx="1732.7" cy="304.5" r="5.95"/><circle cx="1741.4" cy="305.9" r="5.95"/><circle cx="1737.4" cy="336.3" r="5.95"/><circle cx="1712.8" cy="345" r="5.95"/><circle cx="1737.4" cy="347.9" r="5.95"/><circle cx="1754.5" cy="303.7" r="5.95"/><circle cx="1742.2" cy="304.5" r="5.95"/><circle cx="1740.7" cy="346.4" r="5.95"/><circle cx="1021.7" cy="579.1" r="5.95"/>
<circle cx="1125.6" cy="579.6" r="5.95"/><circle cx="1270.6" cy="597.8" r="5.95"/><circle cx="1316" cy="576.9" r="5.95"/><circle cx="1484.5" cy="583.8" r="5.95"/><circle cx="1542.3" cy="571.1" r="5.95"/><circle cx="1566.3" cy="576.5" r="5.95"/><circle cx="1608.1" cy="566.3" r="5.95"/><circle cx="1592.6" cy="595.2" r="5.95"/><circle cx="1598.3" cy="593.2" r="5.95"/><circle cx="1632.9" cy="578.1" r="5.95"/><circle cx="1637.4" cy="556.2" r="5.95"/><circle cx="1646.7" cy="565.9" r="5.95"/>
<circle cx="1652.4" cy="568.8" r="5.95"/><circle cx="1653.1" cy="567.8" r="5.95"/><circle cx="1637.8" cy="573.2" r="5.95"/><circle cx="1643.9" cy="592.8" r="5.95"/><circle cx="1676.4" cy="564.7" r="5.95"/><circle cx="1697.6" cy="550.5" r="5.95"/><circle cx="1697.1" cy="548.9" r="5.95"/><circle cx="1712.2" cy="552.1" r="5.95"/><circle cx="1674.8" cy="580.6" r="5.95"/><circle cx="1686.6" cy="570.8" r="5.95"/><circle cx="1688.1" cy="571.6" r="5.95"/><circle cx="1700.4" cy="572.4" r="5.95"/>
<circle cx="1697.2" cy="598.5" r="5.95"/><circle cx="1695.6" cy="599.9" r="5.95"/><circle cx="1724" cy="599.3" r="5.95"/><circle cx="1726.5" cy="595.2" r="5.95"/><circle cx="1725.7" cy="569.2" r="5.95"/><circle cx="1735.4" cy="560.2" r="5.95"/><circle cx="1743.6" cy="596.8" r="5.95"/><circle cx="1748.4" cy="587.9" r="5.95"/><circle cx="1758.1" cy="551.3" r="5.95"/><circle cx="1765.5" cy="552.5" r="5.95"/><circle cx="1783.8" cy="554.9" r="5.95"/><circle cx="1800.5" cy="555.3" r="5.95"/>
<circle cx="1801.6" cy="556.2" r="5.95"/><circle cx="1821.6" cy="557" r="5.95"/><circle cx="1855" cy="550.9" r="5.95"/><circle cx="1855" cy="555.3" r="5.95"/><circle cx="1881" cy="555.8" r="5.95"/><circle cx="1842" cy="561.9" r="5.95"/><circle cx="1857.4" cy="565.5" r="5.95"/><circle cx="1894" cy="564.3" r="5.95"/><circle cx="1893.2" cy="564.4" r="5.95"/><circle cx="1770.3" cy="568.4" r="5.95"/><circle cx="1771.3" cy="567.5" r="5.95"/><circle cx="1795.6" cy="572.4" r="5.95"/>
<circle cx="1810.6" cy="572.8" r="5.95"/><circle cx="1817.5" cy="571.6" r="5.95"/><circle cx="1831" cy="568" r="5.95"/><circle cx="1818.4" cy="578.1" r="5.95"/><circle cx="1819.3" cy="578.3" r="5.95"/><circle cx="1836.7" cy="582.6" r="5.95"/><circle cx="1844.4" cy="580.2" r="5.95"/><circle cx="1860.7" cy="577.7" r="5.95"/><circle cx="1884.3" cy="582.6" r="5.95"/><circle cx="1883.3" cy="582.9" r="5.95"/><circle cx="1767.1" cy="584.6" r="5.95"/><circle cx="1778.5" cy="590.3" r="5.95"/>
<circle cx="1786.6" cy="587.1" r="5.95"/><circle cx="1802.1" cy="585.5" r="5.95"/><circle cx="1802.1" cy="586.9" r="5.95"/><circle cx="1832.6" cy="591.1" r="5.95"/><circle cx="1888.3" cy="590.3" r="5.95"/><circle cx="1760.6" cy="597.3" r="5.95"/><circle cx="1766.3" cy="597.7" r="5.95"/><circle cx="1767.8" cy="598.7" r="5.95"/><circle cx="1778.5" cy="596.8" r="5.95"/><circle cx="1824.5" cy="598.5" r="5.95"/><circle cx="1866" cy="599.3" r="5.95"/><circle cx="1921.6" cy="565.1" r="5.95"/>
<circle cx="1929.7" cy="568.4" r="5.95"/><circle cx="1941.5" cy="565.9" r="5.95"/><circle cx="1957.4" cy="578.9" r="5.95"/><circle cx="1978.5" cy="580.6" r="5.95"/><circle cx="2013.8" cy="580.2" r="5.95"/><circle cx="1934.2" cy="587.9" r="5.95"/><circle cx="1943.1" cy="587.9" r="5.95"/><circle cx="1948.8" cy="594.4" r="5.95"/><circle cx="1948.8" cy="598.9" r="5.95"/><circle cx="1543.2" cy="811.9" r="5.95"/><circle cx="1522.5" cy="835.3" r="5.95"/><circle cx="1572.8" cy="843.7" r="5.95"/>
<circle cx="1573.6" cy="843.7" r="5.95"/><circle cx="1584.5" cy="811.7" r="5.95"/><circle cx="1591" cy="824.7" r="5.95"/><circle cx="1622.1" cy="802.4" r="5.95"/><circle cx="1625" cy="811.8" r="5.95"/><circle cx="1627.9" cy="817.6" r="5.95"/><circle cx="1651" cy="803.9" r="5.95"/><circle cx="1653.2" cy="825.6" r="5.95"/><circle cx="1652.8" cy="826.1" r="5.95"/><circle cx="1648.8" cy="827.7" r="5.95"/><circle cx="1660.4" cy="803.9" r="5.95"/><circle cx="1634.4" cy="837.9" r="5.95"/>
<circle cx="1635.2" cy="837.8" r="5.95"/><circle cx="1617" cy="843.7" r="5.95"/><circle cx="1638" cy="843.7" r="5.95"/><circle cx="1648.8" cy="840" r="5.95"/><circle cx="1671.3" cy="837.9" r="5.95"/><circle cx="1670.7" cy="838.2" r="5.95"/><circle cx="1681.4" cy="812.5" r="5.95"/><circle cx="1680.4" cy="813.4" r="5.95"/><circle cx="1672.7" cy="820.5" r="5.95"/><circle cx="1676.3" cy="824.8" r="5.95"/><circle cx="1677" cy="825" r="5.95"/><circle cx="1694.4" cy="798.8" r="5.95"/>
<circle cx="1695.9" cy="797.9" r="5.95"/><circle cx="1696.6" cy="817.6" r="5.95"/><circle cx="1695.5" cy="816.9" r="5.95"/><circle cx="1684.3" cy="837.9" r="5.95"/><circle cx="1704.5" cy="811.1" r="5.95"/><circle cx="1702.9" cy="809.5" r="5.95"/><circle cx="1711" cy="801.7" r="5.95"/><circle cx="1711" cy="800.7" r="5.95"/><circle cx="1703.8" cy="827" r="5.95"/><circle cx="1891.6" cy="803.3" r="5.95"/><circle cx="1886.2" cy="818.3" r="5.95"/><circle cx="1885.9" cy="819.3" r="5.95"/>
<circle cx="1901.4" cy="826.3" r="5.95"/><circle cx="1933.5" cy="831.4" r="5.95"/><circle cx="1934.1" cy="831.4" r="5.95"/><circle cx="1908.6" cy="839.3" r="5.95"/><circle cx="1907.2" cy="839.2" r="5.95"/><circle cx="1903.5" cy="845.8" r="5.95"/><circle cx="1902.6" cy="846.2" r="5.95"/><circle cx="1889.1" cy="840.8" r="5.95"/><circle cx="1888.1" cy="839.6" r="5.95"/><circle cx="1871" cy="843.8" r="5.95"/><circle cx="1858.7" cy="832.1" r="5.95"/><circle cx="1850" cy="803.9" r="5.95"/>
<circle cx="1849.8" cy="803.4" r="5.95"/><circle cx="2022.8" cy="826.5" r="5.95"/><circle cx="2022.8" cy="826.8" r="5.95"/><circle cx="2037" cy="822.5" r="5.95"/><circle cx="2105.4" cy="807.7" r="5.95"/><circle cx="2161.8" cy="805.4" r="5.95"/><circle cx="1551.8" cy="1084.8" r="5.95"/><circle cx="1597.3" cy="1073.9" r="5.95"/><circle cx="1605.7" cy="1083.4" r="5.95"/><circle cx="1635.1" cy="1043" r="5.95"/><circle cx="1640.8" cy="1083.9" r="5.95"/><circle cx="1657.9" cy="1044" r="5.95"/>
<circle cx="1898.5" cy="1067" r="5.95"/><circle cx="1856.5" cy="1061.5" r="5.95"/><circle cx="1840.6" cy="1055.4" r="5.95"/><circle cx="1840.5" cy="1054.6" r="5.95"/><circle cx="1848.6" cy="1069.1" r="5.95"/><circle cx="1849.3" cy="1069.1" r="5.95"/><circle cx="1827.6" cy="1051.8" r="5.95"/><circle cx="1826.9" cy="1050.3" r="5.95"/><circle cx="1814.6" cy="1044.2" r="5.95"/><circle cx="1814.1" cy="1045.5" r="5.95"/><circle cx="1803" cy="1043.1" r="5.95"/><circle cx="1815.3" cy="1056.8" r="5.95"/>
<circle cx="1815.9" cy="1057.2" r="5.95"/><circle cx="1811.7" cy="1067" r="5.95"/><circle cx="1829.1" cy="1069.8" r="5.95"/><circle cx="1830.4" cy="1068.3" r="5.95"/><circle cx="1805.2" cy="1077.1" r="5.95"/><circle cx="1805.5" cy="1076.1" r="5.95"/><circle cx="1804.9" cy="1076.1" r="5.95"/><circle cx="1815.3" cy="1079.2" r="5.95"/><circle cx="1827.6" cy="1084.3" r="5.95"/><circle cx="1820.4" cy="1089.4" r="5.95"/><circle cx="1819.9" cy="1090.7" r="5.95"/><circle cx="1821.1" cy="1093" r="5.95"/>
<circle cx="1798.7" cy="1089.4" r="5.95"/><circle cx="1797.2" cy="1056.8" r="5.95"/><circle cx="1795.9" cy="1056.2" r="5.95"/><circle cx="1794.3" cy="1082.9" r="5.95"/><circle cx="1795.2" cy="1081.4" r="5.95"/><circle cx="1790" cy="1074.2" r="5.95"/><circle cx="1789" cy="1072.8" r="5.95"/><circle cx="1963.5" cy="1068.9" r="5.95"/><circle cx="1640" cy="1043.1" r="5.95"/><circle cx="1642.2" cy="1083.6" r="5.95"/><circle cx="1658.8" cy="1044.2" r="5.95"/><circle cx="1693.5" cy="1049.6" r="5.95"/>
<circle cx="1703.7" cy="1052.5" r="5.95"/><circle cx="1718.8" cy="1046" r="5.95"/><circle cx="1709.4" cy="1059.7" r="5.95"/><circle cx="1697.1" cy="1062.6" r="5.95"/><circle cx="1722.5" cy="1056.8" r="5.95"/><circle cx="1730.4" cy="1068.4" r="5.95"/><circle cx="1741.3" cy="1059.7" r="5.95"/><circle cx="1747.8" cy="1049.6" r="5.95"/><circle cx="1762.2" cy="1056.8" r="5.95"/><circle cx="1765.9" cy="1046" r="5.95"/><circle cx="1700" cy="1078.5" r="5.95"/><circle cx="1712.3" cy="1082.1" r="5.95"/>
<circle cx="1718.1" cy="1085" r="5.95"/><circle cx="1691.4" cy="1087.9" r="5.95"/><circle cx="1708" cy="1091.5" r="5.95"/><circle cx="1668.9" cy="1085" r="5.95"/><circle cx="1734" cy="1077.8" r="5.95"/><circle cx="1739.1" cy="1085" r="5.95"/><circle cx="1745.6" cy="1091.5" r="5.95"/><circle cx="1744.9" cy="1068.4" r="5.95"/><circle cx="1752.8" cy="1075.6" r="5.95"/><circle cx="1759.3" cy="1069.1" r="5.95"/><circle cx="1764.4" cy="1075.6" r="5.95"/><circle cx="1777.4" cy="1046.7" r="5.95"/>
<circle cx="1788.3" cy="1049.6" r="5.95"/><circle cx="1789.7" cy="1074.9" r="5.95"/><circle cx="1779.6" cy="1077.1" r="5.95"/><circle cx="1795.5" cy="1085" r="5.95"/><circle cx="1770.2" cy="1082.9" r="5.95"/><circle cx="1682" cy="1068.4" r="5.95"/><circle cx="1797.7" cy="1057.5" r="5.95"/><circle cx="1751.4" cy="1064.1" r="5.95"/>
</g>
<g fill="#FCA636" fill-opacity="0.5" stroke="#FCA636" stroke-opacity="0.55" stroke-width="1">
<circle cx="1748" cy="338.6" r="5.95"/><circle cx="1746.7" cy="323.4" r="5.95"/><circle cx="1738.7" cy="330.5" r="5.95"/><circle cx="1750.6" cy="330.2" r="5.95"/><circle cx="1747.8" cy="309.9" r="5.95"/><circle cx="1753.2" cy="312.1" r="5.95"/><circle cx="1722.7" cy="324.1" r="5.95"/><circle cx="1733.1" cy="338.1" r="5.95"/><circle cx="1729.7" cy="337.5" r="5.95"/><circle cx="1732.9" cy="325.9" r="5.95"/><circle cx="1754" cy="341.5" r="5.95"/><circle cx="1740.5" cy="334.1" r="5.95"/>
<circle cx="1733" cy="320.6" r="5.95"/><circle cx="1748.7" cy="338.9" r="5.95"/><circle cx="1746.7" cy="578.5" r="5.95"/><circle cx="1761.9" cy="576.6" r="5.95"/><circle cx="1748.3" cy="596.5" r="5.95"/><circle cx="1767.7" cy="583.4" r="5.95"/><circle cx="1782.1" cy="578.1" r="5.95"/><circle cx="1735.1" cy="576" r="5.95"/><circle cx="1640.7" cy="319.3" r="5.95"/><circle cx="1637.6" cy="333.4" r="5.95"/><circle cx="1628.4" cy="342.2" r="5.95"/><circle cx="1665.7" cy="321.2" r="5.95"/>
<circle cx="1682.5" cy="308.1" r="5.95"/><circle cx="1698.5" cy="308.1" r="5.95"/><circle cx="1694" cy="313.9" r="5.95"/><circle cx="1694.4" cy="325.1" r="5.95"/><circle cx="1685.7" cy="336.7" r="5.95"/><circle cx="1673.8" cy="345" r="5.95"/><circle cx="1692.9" cy="345.7" r="5.95"/><circle cx="1698" cy="335.2" r="5.95"/><circle cx="1697.7" cy="333.6" r="5.95"/><circle cx="1695.5" cy="342.8" r="5.95"/><circle cx="1712.5" cy="317.1" r="5.95"/><circle cx="1734.5" cy="309.2" r="5.95"/>
<circle cx="1735.6" cy="308.5" r="5.95"/><circle cx="1725.1" cy="311.7" r="5.95"/><circle cx="1724.4" cy="321.1" r="5.95"/><circle cx="1724" cy="320.1" r="5.95"/><circle cx="1738.2" cy="320.4" r="5.95"/><circle cx="1738.4" cy="319.3" r="5.95"/><circle cx="1715.7" cy="318.9" r="5.95"/><circle cx="1712.8" cy="329.1" r="5.95"/><circle cx="1719.3" cy="330.5" r="5.95"/><circle cx="1728.8" cy="336.3" r="5.95"/><circle cx="1727.5" cy="336.1" r="5.95"/><circle cx="1715.7" cy="345.7" r="5.95"/>
<circle cx="1724.4" cy="344.2" r="5.95"/><circle cx="1739.6" cy="342.1" r="5.95"/><circle cx="1732.4" cy="352.9" r="5.95"/><circle cx="1749" cy="336.3" r="5.95"/><circle cx="1704.9" cy="334.8" r="5.95"/><circle cx="1744.7" cy="329.1" r="5.95"/><circle cx="1719.3" cy="313.9" r="5.95"/><circle cx="1730.2" cy="316" r="5.95"/><circle cx="1708.5" cy="340.6" r="5.95"/><circle cx="1721.5" cy="339.2" r="5.95"/><circle cx="1733.8" cy="330.5" r="5.95"/><circle cx="1886.7" cy="342.8" r="5.95"/>
<circle cx="1809.4" cy="332.5" r="5.95"/><circle cx="1800.4" cy="338.6" r="5.95"/><circle cx="1791.2" cy="340.8" r="5.95"/><circle cx="1778.7" cy="345" r="5.95"/><circle cx="1767.8" cy="341.5" r="5.95"/><circle cx="1759.4" cy="346.4" r="5.95"/><circle cx="1759.4" cy="350" r="5.95"/><circle cx="1795.7" cy="317.8" r="5.95"/><circle cx="1784.1" cy="313.9" r="5.95"/><circle cx="1786.3" cy="317.8" r="5.95"/><circle cx="1786.5" cy="316.8" r="5.95"/><circle cx="1775.8" cy="323.3" r="5.95"/>
<circle cx="1776.2" cy="329.4" r="5.95"/><circle cx="1769.3" cy="307.5" r="5.95"/><circle cx="1769.5" cy="307" r="5.95"/><circle cx="1764.6" cy="317.5" r="5.95"/><circle cx="1752.7" cy="308.4" r="5.95"/><circle cx="1754.1" cy="307.1" r="5.95"/><circle cx="1755.6" cy="320.4" r="5.95"/><circle cx="1757.1" cy="320.1" r="5.95"/><circle cx="1757.4" cy="332.7" r="5.95"/><circle cx="1749.4" cy="336.3" r="5.95"/><circle cx="1745.1" cy="326.2" r="5.95"/><circle cx="1740" cy="320.4" r="5.95"/>
<circle cx="1740" cy="319.3" r="5.95"/><circle cx="1748" cy="313.9" r="5.95"/><circle cx="1760.3" cy="326.2" r="5.95"/><circle cx="1376.8" cy="581.7" r="5.95"/><circle cx="1632.9" cy="577.7" r="5.95"/><circle cx="1639.4" cy="552.5" r="5.95"/><circle cx="1666.3" cy="551.3" r="5.95"/><circle cx="1684" cy="555.3" r="5.95"/><circle cx="1715.9" cy="561.9" r="5.95"/><circle cx="1672" cy="585.5" r="5.95"/><circle cx="1672" cy="583" r="5.95"/><circle cx="1696.4" cy="587.1" r="5.95"/>
<circle cx="1708.6" cy="573.2" r="5.95"/><circle cx="1710.2" cy="577.3" r="5.95"/><circle cx="1711.8" cy="583" r="5.95"/><circle cx="1715.1" cy="592" r="5.95"/><circle cx="1724" cy="584.6" r="5.95"/><circle cx="1736.2" cy="571.6" r="5.95"/><circle cx="1742.7" cy="576.5" r="5.95"/><circle cx="1738.7" cy="590.3" r="5.95"/><circle cx="1734.6" cy="591.1" r="5.95"/><circle cx="1744.4" cy="565.1" r="5.95"/><circle cx="1833" cy="552.1" r="5.95"/><circle cx="1865.6" cy="556.6" r="5.95"/>
<circle cx="1753.3" cy="561" r="5.95"/><circle cx="1752.2" cy="559.8" r="5.95"/><circle cx="1765.5" cy="562.3" r="5.95"/><circle cx="1765.2" cy="563.5" r="5.95"/><circle cx="1781.3" cy="561" r="5.95"/><circle cx="1781.6" cy="561.8" r="5.95"/><circle cx="1793.5" cy="557.4" r="5.95"/><circle cx="1812.3" cy="562.3" r="5.95"/><circle cx="1850.1" cy="561.9" r="5.95"/><circle cx="1871.7" cy="564.7" r="5.95"/><circle cx="1756.9" cy="570.8" r="5.95"/><circle cx="1757.6" cy="571.8" r="5.95"/>
<circle cx="1781.7" cy="573.2" r="5.95"/><circle cx="1880.2" cy="571.2" r="5.95"/><circle cx="1757.7" cy="581.4" r="5.95"/><circle cx="1758.9" cy="580.5" r="5.95"/><circle cx="1776.9" cy="579.8" r="5.95"/><circle cx="1790.3" cy="580.6" r="5.95"/><circle cx="1815.9" cy="583.8" r="5.95"/><circle cx="1852.5" cy="579.3" r="5.95"/><circle cx="1898.1" cy="584.2" r="5.95"/><circle cx="1815.9" cy="591.1" r="5.95"/><circle cx="1862.3" cy="592.8" r="5.95"/><circle cx="1884.3" cy="593.6" r="5.95"/>
<circle cx="1882.8" cy="592.5" r="5.95"/><circle cx="1898.9" cy="596" r="5.95"/><circle cx="1791.1" cy="595.6" r="5.95"/><circle cx="1805.3" cy="596" r="5.95"/><circle cx="1804.2" cy="595.2" r="5.95"/><circle cx="1852.5" cy="598.9" r="5.95"/><circle cx="1852.7" cy="597.8" r="5.95"/><circle cx="1911.1" cy="554.5" r="5.95"/><circle cx="1954.1" cy="552.5" r="5.95"/><circle cx="1937.8" cy="570.8" r="5.95"/><circle cx="1945.4" cy="579.8" r="5.95"/><circle cx="1977.5" cy="592" r="5.95"/>
<circle cx="1613.4" cy="844.4" r="5.95"/><circle cx="1695.1" cy="836.4" r="5.95"/><circle cx="1695.3" cy="836.5" r="5.95"/><circle cx="1700.2" cy="840.8" r="5.95"/><circle cx="1976.2" cy="808.2" r="5.95"/><circle cx="1988.5" cy="815.8" r="5.95"/><circle cx="2009.1" cy="825.6" r="5.95"/><circle cx="1924.5" cy="811.1" r="5.95"/><circle cx="1937.9" cy="819.8" r="5.95"/><circle cx="1903.5" cy="808.9" r="5.95"/><circle cx="1903.9" cy="809.9" r="5.95"/><circle cx="1891.6" cy="803.1" r="5.95"/>
<circle cx="1865.9" cy="803.9" r="5.95"/><circle cx="1876.8" cy="806" r="5.95"/><circle cx="1875.5" cy="806.1" r="5.95"/><circle cx="1864.5" cy="808.9" r="5.95"/><circle cx="1860.8" cy="818.3" r="5.95"/><circle cx="1860" cy="819.5" r="5.95"/><circle cx="1865.2" cy="822" r="5.95"/><circle cx="1863.7" cy="821.4" r="5.95"/><circle cx="1868.1" cy="830.6" r="5.95"/><circle cx="1915.5" cy="831.4" r="5.95"/><circle cx="1915.1" cy="830.3" r="5.95"/><circle cx="1882.2" cy="834.2" r="5.95"/>
<circle cx="1883.4" cy="833.7" r="5.95"/><circle cx="1871" cy="843.7" r="5.95"/><circle cx="2090.4" cy="813.7" r="5.95"/><circle cx="2108.7" cy="810.9" r="5.95"/><circle cx="689" cy="1579.1" r="5.95"/><circle cx="943.5" cy="1578.3" r="5.95"/><circle cx="969.7" cy="1540.8" r="5.95"/><circle cx="1076.4" cy="1579.4" r="5.95"/><circle cx="1137.8" cy="1555.5" r="5.95"/><circle cx="1154" cy="1579.4" r="5.95"/><circle cx="1169.8" cy="1575.3" r="5.95"/><circle cx="1195.2" cy="1579.6" r="5.95"/>
<circle cx="1265.2" cy="1555.8" r="5.95"/><circle cx="1283.4" cy="1547" r="5.95"/><circle cx="1296.9" cy="1547.2" r="5.95"/><circle cx="1344.1" cy="1552.7" r="5.95"/><circle cx="1349.8" cy="1579.1" r="5.95"/><circle cx="1364.8" cy="1562" r="5.95"/><circle cx="1400.4" cy="1554.5" r="5.95"/><circle cx="1405.2" cy="1568" r="5.95"/><circle cx="1452" cy="1581" r="5.95"/><circle cx="1453.6" cy="1569.2" r="5.95"/><circle cx="1460.1" cy="1561" r="5.95"/><circle cx="1469" cy="1581" r="5.95"/>
<circle cx="1470.7" cy="1540.3" r="5.95"/><circle cx="1476.9" cy="1545.2" r="5.95"/><circle cx="1483.2" cy="1560.7" r="5.95"/><circle cx="1494" cy="1559.1" r="5.95"/><circle cx="1510.1" cy="1543.1" r="5.95"/><circle cx="1515.4" cy="1577.3" r="5.95"/><circle cx="1556.1" cy="1553.7" r="5.95"/><circle cx="1561" cy="1554.7" r="5.95"/><circle cx="1583" cy="1554.2" r="5.95"/><circle cx="1609.8" cy="1554.2" r="5.95"/><circle cx="1624.2" cy="1550.1" r="5.95"/><circle cx="1607.9" cy="1567.5" r="5.95"/>
<circle cx="1606.9" cy="1575.3" r="5.95"/><circle cx="1626.6" cy="1573.4" r="5.95"/><circle cx="1640.8" cy="1565.6" r="5.95"/><circle cx="1644.5" cy="1567.2" r="5.95"/><circle cx="1672.5" cy="1563.1" r="5.95"/><circle cx="1667.6" cy="1583.8" r="5.95"/><circle cx="1701" cy="1544.4" r="5.95"/><circle cx="1705.1" cy="1561.2" r="5.95"/><circle cx="1704.6" cy="1578.6" r="5.95"/><circle cx="1715.7" cy="1553.4" r="5.95"/><circle cx="1719.8" cy="1584.6" r="5.95"/><circle cx="1727.1" cy="1568.8" r="5.95"/>
<circle cx="1731.5" cy="1574.5" r="5.95"/><circle cx="1738.5" cy="1566.1" r="5.95"/><circle cx="1749.9" cy="1554.2" r="5.95"/><circle cx="1760" cy="1573.7" r="5.95"/><circle cx="1778.8" cy="1572.6" r="5.95"/><circle cx="1790.6" cy="1551.2" r="5.95"/><circle cx="1799.2" cy="1536.3" r="5.95"/><circle cx="1806.5" cy="1549" r="5.95"/><circle cx="1806" cy="1577" r="5.95"/><circle cx="1810.9" cy="1576.6" r="5.95"/><circle cx="1819.9" cy="1572.9" r="5.95"/><circle cx="1847.2" cy="1566.4" r="5.95"/>
<circle cx="1873.2" cy="1557.1" r="5.95"/><circle cx="1876.8" cy="1546.9" r="5.95"/><circle cx="1883.3" cy="1550.6" r="5.95"/><circle cx="1932.7" cy="1568.3" r="5.95"/><circle cx="1969.6" cy="1578.1" r="5.95"/><circle cx="1993.5" cy="1578.6" r="5.95"/><circle cx="2020.9" cy="1585.1" r="5.95"/><circle cx="1767.1" cy="798.8" r="5.95"/><circle cx="1789.2" cy="801" r="5.95"/><circle cx="1799.7" cy="804.6" r="5.95"/><circle cx="1809.1" cy="802.4" r="5.95"/><circle cx="1829.3" cy="801" r="5.95"/>
<circle cx="1821.4" cy="810.4" r="5.95"/><circle cx="1726.3" cy="815.4" r="5.95"/><circle cx="1732.4" cy="814" r="5.95"/><circle cx="1746.2" cy="815.4" r="5.95"/><circle cx="1779.4" cy="816.2" r="5.95"/><circle cx="1796.8" cy="818.3" r="5.95"/><circle cx="1811.3" cy="820.5" r="5.95"/><circle cx="1793.9" cy="814" r="5.95"/><circle cx="1713.6" cy="829.2" r="5.95"/><circle cx="1736" cy="827.7" r="5.95"/><circle cx="1736" cy="832.1" r="5.95"/><circle cx="1752" cy="826.3" r="5.95"/>
<circle cx="1765" cy="833.5" r="5.95"/><circle cx="1772.2" cy="830.6" r="5.95"/><circle cx="1793.2" cy="829.2" r="5.95"/><circle cx="1796.8" cy="835" r="5.95"/><circle cx="1809.1" cy="833.5" r="5.95"/><circle cx="1783.1" cy="833.5" r="5.95"/><circle cx="1838.8" cy="814" r="5.95"/><circle cx="1837.3" cy="823.4" r="5.95"/><circle cx="1843.8" cy="829.2" r="5.95"/><circle cx="1829.3" cy="830.6" r="5.95"/><circle cx="1725.6" cy="841.5" r="5.95"/><circle cx="1743.3" cy="841.5" r="5.95"/>
<circle cx="1778" cy="842.2" r="5.95"/><circle cx="1822.1" cy="842.2" r="5.95"/><circle cx="1836.6" cy="844.4" r="5.95"/><circle cx="1849.6" cy="806.8" r="5.95"/><circle cx="1843.8" cy="836.4" r="5.95"/><circle cx="1767.7" cy="798.3" r="5.95"/><circle cx="1800.3" cy="804.1" r="5.95"/><circle cx="1829.9" cy="800.5" r="5.95"/><circle cx="1726.9" cy="814.9" r="5.95"/><circle cx="1746.8" cy="814.9" r="5.95"/><circle cx="1797.4" cy="817.8" r="5.95"/><circle cx="1794.5" cy="813.5" r="5.95"/>
<circle cx="1736.6" cy="827.2" r="5.95"/><circle cx="1752.6" cy="825.8" r="5.95"/><circle cx="1772.8" cy="830.1" r="5.95"/><circle cx="1797.4" cy="834.5" r="5.95"/><circle cx="1783.7" cy="833" r="5.95"/><circle cx="1837.9" cy="822.9" r="5.95"/><circle cx="1829.9" cy="830.1" r="5.95"/><circle cx="1743.9" cy="841" r="5.95"/><circle cx="1822.7" cy="841.7" r="5.95"/><circle cx="1850.2" cy="806.3" r="5.95"/>
</g>
<g fill="#000">
<rect x="1649" y="260.45" width="174.1" height="13.6"/>
<rect x="1714.4" y="246.5" width="41.59" height="41.59"/>
<rect x="1501" y="507.1" width="578.8" height="13.6"/>
<rect x="1746.45" y="491.65" width="43.1" height="43.1"/>
<rect x="1587.5" y="753.45" width="361" height="13.6"/>
<polygon points="1764,727.05 1792.65,776.7 1735.35,776.7"/>
<rect x="1601.5" y="1000.1" width="278.3" height="13.6"/>
<circle cx="1743.3" cy="1006.2" r="21.75"/>
<rect x="1351.8" y="1245.8" width="903.1" height="13.6"/>
<polygon points="1771.1,1219.36 1799.52,1268.62 1742.68,1268.62"/>
<rect x="905.3" y="1491.8" width="1398.8" height="13.6"/>
<rect x="1576.5" y="1477.65" width="43.1" height="43.1"/>
</g>
<g stroke="#000" stroke-width="7">
<line x1="471.8" y1="180.9" x2="2510" y2="180.9"/>
<line x1="471.8" y1="1708.8" x2="2510" y2="1708.8" stroke-width="6.7"/>
<line x1="471.8" y1="180.9" x2="471.8" y2="1708.7"/>
</g>
<g stroke="#333" stroke-width="5">
<line x1="695.4" y1="180.9" x2="695.4" y2="166.3"/>
<line x1="1046.6" y1="180.9" x2="1046.6" y2="166.3"/>
<line x1="1397.8" y1="180.9" x2="1397.8" y2="166.3"/>
<line x1="1749" y1="180.9" x2="1749" y2="166.3"/>
<line x1="2100.2" y1="180.9" x2="2100.2" y2="166.3"/>
<line x1="2451.4" y1="180.9" x2="2451.4" y2="166.3"/>
<line x1="563.7" y1="1708.7" x2="563.7" y2="1723.3"/>
<line x1="695.4" y1="1708.7" x2="695.4" y2="1723.3"/>
<line x1="827.1" y1="1708.7" x2="827.1" y2="1723.3"/>
<line x1="958.8" y1="1708.7" x2="958.8" y2="1723.3"/>
<line x1="1090.5" y1="1708.7" x2="1090.5" y2="1723.3"/>
<line x1="1222.2" y1="1708.7" x2="1222.2" y2="1723.3"/>
<line x1="1353.9" y1="1708.7" x2="1353.9" y2="1723.3"/>
<line x1="1485.6" y1="1708.7" x2="1485.6" y2="1723.3"/>
<line x1="1617.3" y1="1708.7" x2="1617.3" y2="1723.3"/>
<line x1="1749" y1="1708.7" x2="1749" y2="1723.3"/>
<line x1="1880.7" y1="1708.7" x2="1880.7" y2="1723.3"/>
<line x1="2012.4" y1="1708.7" x2="2012.4" y2="1723.3"/>
<line x1="2144.1" y1="1708.7" x2="2144.1" y2="1723.3"/>
<line x1="2275.8" y1="1708.7" x2="2275.8" y2="1723.3"/>
<line x1="2407.5" y1="1708.7" x2="2407.5" y2="1723.3"/>
<line x1="471.8" y1="328.75" x2="457.2" y2="328.75"/>
<line x1="471.8" y1="575.2" x2="457.2" y2="575.2"/>
<line x1="471.8" y1="821.65" x2="457.2" y2="821.65"/>
<line x1="471.8" y1="1068.1" x2="457.2" y2="1068.1"/>
<line x1="471.8" y1="1314.55" x2="457.2" y2="1314.55"/>
<line x1="471.8" y1="1561" x2="457.2" y2="1561"/>
</g>
<g font-size="59.59" stroke="#000" stroke-width="0.7">
<text x="670.2" y="154.85" textLength="50.34" lengthAdjust="spacingAndGlyphs">-3</text>
<text x="1021.58" y="154.85" textLength="50.34" lengthAdjust="spacingAndGlyphs">-2</text>
<text x="1372.74" y="154.85" textLength="50.34" lengthAdjust="spacingAndGlyphs">-1</text>
<text x="1733.26" y="154.85" textLength="31.49" lengthAdjust="spacingAndGlyphs">0</text>
<text x="2083.69" y="154.85" textLength="31.49" lengthAdjust="spacingAndGlyphs">1</text>
<text x="2435.66" y="154.85" textLength="31.49" lengthAdjust="spacingAndGlyphs">2</text>
</g>
<g font-size="59.59" stroke="#000" stroke-width="0.7">
<text x="538.6" y="1775.85" textLength="50.34" lengthAdjust="spacingAndGlyphs">-9</text>
<text x="670.19" y="1775.85" textLength="50.34" lengthAdjust="spacingAndGlyphs">-8</text>
<text x="802.08" y="1775.85" textLength="50.34" lengthAdjust="spacingAndGlyphs">-7</text>
<text x="933.6" y="1775.85" textLength="50.34" lengthAdjust="spacingAndGlyphs">-6</text>
<text x="1065.25" y="1775.85" textLength="50.34" lengthAdjust="spacingAndGlyphs">-5</text>
<text x="1196.59" y="1775.85" textLength="50.34" lengthAdjust="spacingAndGlyphs">-4</text>
<text x="1328.7" y="1775.85" textLength="50.34" lengthAdjust="spacingAndGlyphs">-3</text>
<text x="1460.58" y="1775.85" textLength="50.34" lengthAdjust="spacingAndGlyphs">-2</text>
<text x="1592.24" y="1775.85" textLength="50.34" lengthAdjust="spacingAndGlyphs">-1</text>
<text x="1733.26" y="1775.85" textLength="31.49" lengthAdjust="spacingAndGlyphs">0</text>
<text x="1864.19" y="1775.85" textLength="31.49" lengthAdjust="spacingAndGlyphs">1</text>
<text x="1996.66" y="1775.85" textLength="31.49" lengthAdjust="spacingAndGlyphs">2</text>
<text x="2128.53" y="1775.85" textLength="31.49" lengthAdjust="spacingAndGlyphs">3</text>
<text x="2260.23" y="1775.85" textLength="31.49" lengthAdjust="spacingAndGlyphs">4</text>
<text x="2391.83" y="1775.85" textLength="31.49" lengthAdjust="spacingAndGlyphs">5</text>
</g>
<g font-size="59.59" stroke="#000" stroke-width="0.7">
<text><tspan x="160.88" y="349" textLength="165.26" lengthAdjust="spacingAndGlyphs">Hirota</tspan> <tspan x="347.5" y="349" textLength="97.28" lengthAdjust="spacingAndGlyphs">Bay</tspan></text>
<text><tspan x="-3.97" y="596" textLength="330.13" lengthAdjust="spacingAndGlyphs">Matsushima</tspan> <tspan x="347.5" y="596" textLength="97.28" lengthAdjust="spacingAndGlyphs">Bay</tspan></text>
<text><tspan x="113.12" y="842" textLength="213.02" lengthAdjust="spacingAndGlyphs">Arikawa</tspan> <tspan x="347.5" y="842" textLength="97.28" lengthAdjust="spacingAndGlyphs">Bay</tspan></text>
<text><tspan x="86.86" y="1089" textLength="239.28" lengthAdjust="spacingAndGlyphs">Tainoura</tspan> <tspan x="347.5" y="1089" textLength="97.28" lengthAdjust="spacingAndGlyphs">Bay</tspan></text>
<text><tspan x="138.95" y="1335" textLength="187.16" lengthAdjust="spacingAndGlyphs">Omura</tspan> <tspan x="347.5" y="1335" textLength="97.28" lengthAdjust="spacingAndGlyphs">Bay</tspan></text>
<text><tspan x="176.86" y="1581" textLength="110.77" lengthAdjust="spacingAndGlyphs">Bise</tspan> <tspan x="304.5" y="1581" textLength="140.51" lengthAdjust="spacingAndGlyphs">Point</tspan></text>
</g>
<g font-size="59.59" stroke="#000" stroke-width="0.7">
<text><tspan x="790.19" y="65.25" textLength="96.19" lengthAdjust="spacingAndGlyphs">Net</tspan> <tspan x="903.1" y="65.25" textLength="287.29" lengthAdjust="spacingAndGlyphs">ecosystem</tspan> <tspan x="1207.17" y="65.25" textLength="316.63" lengthAdjust="spacingAndGlyphs">production,</tspan> <tspan x="1538.33" y="65.25" textLength="109.81" lengthAdjust="spacingAndGlyphs">NEP</tspan> <tspan x="1679.9" y="61.31" textLength="20.28" lengthAdjust="spacingAndGlyphs" font-size="77.23">(</tspan><tspan x="1706.24" y="62.62" textLength="15.89" lengthAdjust="spacingAndGlyphs" font-size="63.02">[</tspan><tspan x="1726.22" y="65.25" textLength="33.49" lengthAdjust="spacingAndGlyphs">g</tspan> <tspan x="1776.52" y="65.25" textLength="34.99" lengthAdjust="spacingAndGlyphs">C</tspan> <tspan x="1827.66" y="65.25" textLength="53.28" lengthAdjust="spacingAndGlyphs">m</tspan><tspan x="1882.25" y="35.45" textLength="43.62" lengthAdjust="spacingAndGlyphs" font-size="41.26">−2</tspan> <tspan x="1941.96" y="65.25" textLength="34.45" lengthAdjust="spacingAndGlyphs">d</tspan><tspan x="1978.07" y="35.55" textLength="37.44" lengthAdjust="spacingAndGlyphs" font-size="41.26">−1</tspan><tspan x="2024.87" y="62.87" textLength="15.89" lengthAdjust="spacingAndGlyphs" font-size="62.49">]</tspan> <tspan x="2057.76" y="65.25" textLength="53.28" lengthAdjust="spacingAndGlyphs">m</tspan><tspan x="2112.56" y="35.55" textLength="37.76" lengthAdjust="spacingAndGlyphs" font-size="41.26">−1</tspan><tspan x="2160.61" y="61.31" textLength="20.78" lengthAdjust="spacingAndGlyphs" font-size="77.23">)</tspan></text>
<text><tspan x="774.84" y="1869.35" textLength="96.19" lengthAdjust="spacingAndGlyphs">Net</tspan> <tspan x="887.75" y="1869.35" textLength="287.29" lengthAdjust="spacingAndGlyphs">ecosystem</tspan> <tspan x="1191.82" y="1869.35" textLength="316.63" lengthAdjust="spacingAndGlyphs">production,</tspan> <tspan x="1522.98" y="1869.35" textLength="109.81" lengthAdjust="spacingAndGlyphs">NEP</tspan> <tspan x="1664.14" y="1865.21" textLength="20.04" lengthAdjust="spacingAndGlyphs" font-size="77.23">(</tspan><tspan x="1690.94" y="1866.57" textLength="15.89" lengthAdjust="spacingAndGlyphs" font-size="62.7">[</tspan><tspan x="1709.98" y="1869.35" textLength="34.21" lengthAdjust="spacingAndGlyphs">g</tspan> <tspan x="1761.09" y="1869.35" textLength="43.25" lengthAdjust="spacingAndGlyphs">O</tspan><tspan x="1805.48" y="1879.65" textLength="21.55" lengthAdjust="spacingAndGlyphs" font-size="41.26">2</tspan> <tspan x="1843.76" y="1869.35" textLength="53.28" lengthAdjust="spacingAndGlyphs">m</tspan><tspan x="1897.35" y="1839.45" textLength="43.73" lengthAdjust="spacingAndGlyphs" font-size="41.26">−2</tspan> <tspan x="1957.47" y="1869.35" textLength="34.33" lengthAdjust="spacingAndGlyphs">d</tspan><tspan x="1993.27" y="1839.55" textLength="37.44" lengthAdjust="spacingAndGlyphs" font-size="41.26">−1</tspan><tspan x="2040.28" y="1866.57" textLength="15.62" lengthAdjust="spacingAndGlyphs" font-size="62.17">]</tspan> <tspan x="2073.67" y="1869.35" textLength="53.16" lengthAdjust="spacingAndGlyphs">m</tspan><tspan x="2127.66" y="1839.55" textLength="37.87" lengthAdjust="spacingAndGlyphs" font-size="41.26">−1</tspan><tspan x="2176.41" y="1865.21" textLength="20.42" lengthAdjust="spacingAndGlyphs" font-size="77.23">)</tspan></text>
</g>
<g fill="#000">
<circle cx="551" cy="288.8" r="21.12"/>
<polygon points="550.95,356.86 578.77,405.07 523.13,405.07"/>
<rect x="530.5" y="468.7" width="41.2" height="41.2"/>
</g>
<g font-size="47.82" stroke="#000" stroke-width="0.7">
<text><tspan x="627.11" y="305.75" textLength="169.83" lengthAdjust="spacingAndGlyphs">Isoyake</tspan> <tspan x="809.3" y="305.75" textLength="230.24" lengthAdjust="spacingAndGlyphs">ecosystem</tspan></text>
<text><tspan x="629.18" y="405.95" textLength="164.58" lengthAdjust="spacingAndGlyphs">Natural</tspan> <tspan x="807.16" y="405.95" textLength="190.25" lengthAdjust="spacingAndGlyphs">seaweed</tspan> <tspan x="1010.7" y="405.95" textLength="230.54" lengthAdjust="spacingAndGlyphs">ecosystem</tspan></text>
<text><tspan x="630.13" y="506.15" textLength="194.42" lengthAdjust="spacingAndGlyphs">Seaweed</tspan> <tspan x="837.44" y="506.15" textLength="104.51" lengthAdjust="spacingAndGlyphs">farm</tspan></text>
</g>
<g fill-opacity="0.5">
<circle cx="550.9" cy="734.1" r="18.9" fill="#41049D"/>
<circle cx="550.9" cy="834.38" r="18.9" fill="#7100A8"/>
<circle cx="550.9" cy="934.66" r="18.9" fill="#9C179E"/>
<circle cx="550.9" cy="1034.94" r="18.9" fill="#BF3984"/>
<circle cx="550.9" cy="1135.22" r="18.9" fill="#DA5B69"/>
<circle cx="550.9" cy="1235.5" r="18.9" fill="#EF7E50"/>
<circle cx="550.9" cy="1335.78" r="18.9" fill="#FCA636"/>
</g>
<g font-size="47.82" stroke="#000" stroke-width="0.7">
<text x="629.68" y="750.65" textLength="101.85" lengthAdjust="spacingAndGlyphs">2015</text>
<text x="629.66" y="850.95" textLength="102.77" lengthAdjust="spacingAndGlyphs">2016</text>
<text x="629.67" y="951.25" textLength="102.45" lengthAdjust="spacingAndGlyphs">2017</text>
<text x="629.66" y="1051.55" textLength="102.75" lengthAdjust="spacingAndGlyphs">2018</text>
<text x="629.66" y="1151.85" textLength="102.94" lengthAdjust="spacingAndGlyphs">2019</text>
<text x="629.66" y="1252.15" textLength="102.53" lengthAdjust="spacingAndGlyphs">2020</text>
<text x="629.71" y="1352.45" textLength="99.99" lengthAdjust="spacingAndGlyphs">2021</text>
</g>
</svg></body></html>
